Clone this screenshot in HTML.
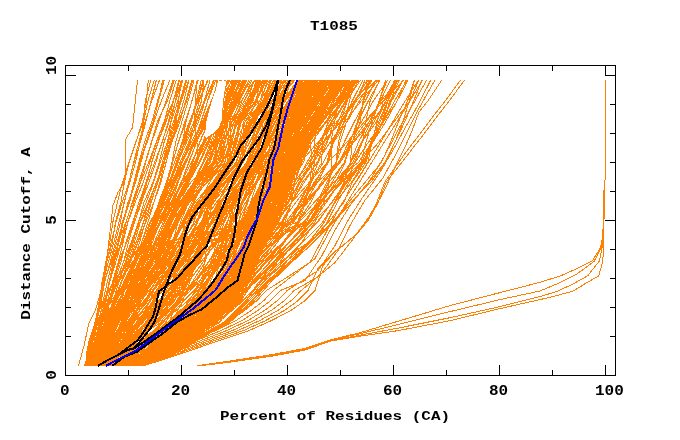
<!DOCTYPE html>
<html><head><meta charset="utf-8"><title>T1085</title>
<style>html,body{margin:0;padding:0;background:#fff;}svg{display:block;}</style>
</head><body><svg width="680" height="440" viewBox="0 0 680 440"><text transform="translate(310,30) scale(1,0.85)" font-family="&apos;Liberation Mono&apos;, monospace" font-weight="bold" font-size="16">T1085</text><text transform="translate(220,420) scale(1,0.85)" font-family="&apos;Liberation Mono&apos;, monospace" font-weight="bold" font-size="16">Percent of Residues (CA)</text><text transform="translate(29.8,233.5) rotate(-90) scale(1,0.85)" text-anchor="middle" font-family="&apos;Liberation Mono&apos;, monospace" font-weight="bold" font-size="16">Distance Cutoff, A</text><text transform="translate(55.5,65.4) rotate(-90) scale(1,0.9)" text-anchor="middle" font-family="&apos;Liberation Mono&apos;, monospace" font-weight="bold" font-size="16">10</text><text transform="translate(55.5,220) rotate(-90) scale(1,0.9)" text-anchor="middle" font-family="&apos;Liberation Mono&apos;, monospace" font-weight="bold" font-size="16">5</text><text transform="translate(55.5,375) rotate(-90) scale(1,0.9)" text-anchor="middle" font-family="&apos;Liberation Mono&apos;, monospace" font-weight="bold" font-size="16">0</text><text transform="translate(60,395) scale(1,0.9)" font-family="&apos;Liberation Mono&apos;, monospace" font-weight="bold" font-size="16">0</text><text transform="translate(171,395) scale(1,0.9)" font-family="&apos;Liberation Mono&apos;, monospace" font-weight="bold" font-size="16">20</text><text transform="translate(277,395) scale(1,0.9)" font-family="&apos;Liberation Mono&apos;, monospace" font-weight="bold" font-size="16">40</text><text transform="translate(383,395) scale(1,0.9)" font-family="&apos;Liberation Mono&apos;, monospace" font-weight="bold" font-size="16">60</text><text transform="translate(489,395) scale(1,0.9)" font-family="&apos;Liberation Mono&apos;, monospace" font-weight="bold" font-size="16">80</text><text transform="translate(595,395) scale(1,0.9)" font-family="&apos;Liberation Mono&apos;, monospace" font-weight="bold" font-size="16">100</text><path d="M87.3 365.8L89.6 355.8L90.5 340.7L96.0 322.7L100.2 302.6L103.6 282.6L106.6 262.5L112.4 242.5L115.4 222.4L120.9 202.3L124.4 182.3L129.1 162.2L136.0 142.2L142.3 122.1L146.4 101.1L148.3 80.0" stroke="#ff8000" stroke-width="1" fill="none" shape-rendering="crispEdges"/><path d="M85.5 365.8L86.8 355.8L90.1 340.7L95.4 322.7L100.3 302.6L102.0 282.6L105.7 262.5L109.8 242.5L112.8 222.4L117.5 202.3L122.5 182.3L129.1 162.2L135.7 142.2L143.3 122.1L145.3 101.1L150.8 80.0" stroke="#ff8000" stroke-width="1" fill="none" shape-rendering="crispEdges"/><path d="M85.5 365.8L86.6 355.8L90.5 340.7L94.7 322.7L101.0 302.6L104.6 282.6L110.1 262.5L115.4 242.5L120.4 222.4L124.0 202.3L129.8 182.3L135.6 162.2L140.0 142.2L143.5 122.1L147.9 101.1L154.2 80.0" stroke="#ff8000" stroke-width="1" fill="none" shape-rendering="crispEdges"/><path d="M87.6 365.8L90.3 355.8L93.0 340.7L96.5 322.7L100.1 302.6L102.4 282.6L106.7 262.5L111.2 242.5L116.0 222.4L122.3 202.3L128.8 182.3L134.1 162.2L140.4 142.2L145.7 122.1L151.1 101.1L156.4 80.0" stroke="#ff8000" stroke-width="1" fill="none" shape-rendering="crispEdges"/><path d="M87.8 365.8L88.8 355.8L90.7 340.7L95.3 322.7L99.0 302.6L102.9 282.6L108.2 262.5L113.8 242.5L118.8 222.4L124.5 202.3L128.9 182.3L133.7 162.2L138.9 142.2L145.0 122.1L151.7 101.1L159.6 80.0" stroke="#ff8000" stroke-width="1" fill="none" shape-rendering="crispEdges"/><path d="M89.5 365.8L93.9 355.8L96.8 340.7L100.6 322.7L105.8 302.6L109.0 282.6L114.5 262.5L118.8 242.5L123.1 222.4L128.0 202.3L135.6 182.3L141.0 162.2L146.4 142.2L153.4 122.1L158.4 101.1L162.6 80.0" stroke="#ff8000" stroke-width="1" fill="none" shape-rendering="crispEdges"/><path d="M89.2 365.8L92.9 355.8L95.5 340.7L99.8 322.7L105.1 302.6L109.2 282.6L113.2 262.5L118.1 242.5L123.2 222.4L129.5 202.3L135.1 182.3L139.4 162.2L146.3 142.2L153.1 122.1L158.5 101.1L164.4 80.0" stroke="#ff8000" stroke-width="1" fill="none" shape-rendering="crispEdges"/><path d="M92.0 365.8L94.3 355.8L96.5 340.7L101.4 322.7L105.9 302.6L109.4 282.6L113.2 262.5L118.7 242.5L122.1 222.4L129.1 202.3L134.0 182.3L139.0 162.2L144.5 142.2L151.8 122.1L157.5 101.1L164.0 80.0" stroke="#ff8000" stroke-width="1" fill="none" shape-rendering="crispEdges"/><path d="M89.6 365.8L91.2 355.8L94.3 340.7L97.1 322.7L100.0 302.6L103.6 282.6L111.1 262.5L116.8 242.5L123.3 222.4L128.7 202.3L134.8 182.3L140.2 162.2L147.1 142.2L153.9 122.1L161.2 101.1L170.0 80.0" stroke="#ff8000" stroke-width="1" fill="none" shape-rendering="crispEdges"/><path d="M93.8 365.8L97.7 355.8L97.8 340.7L101.7 322.7L104.1 302.6L109.1 282.6L114.1 262.5L120.9 242.5L126.1 222.4L132.3 202.3L138.8 182.3L145.3 162.2L151.4 142.2L157.3 122.1L167.2 101.1L174.2 80.0" stroke="#ff8000" stroke-width="1" fill="none" shape-rendering="crispEdges"/><path d="M91.7 365.8L92.8 355.8L96.1 340.7L100.0 322.7L104.6 302.6L109.5 282.6L115.6 262.5L121.7 242.5L127.7 222.4L134.0 202.3L140.5 182.3L145.8 162.2L151.7 142.2L158.6 122.1L166.0 101.1L173.1 80.0" stroke="#ff8000" stroke-width="1" fill="none" shape-rendering="crispEdges"/><path d="M89.5 365.8L91.4 355.8L96.0 340.7L100.9 322.7L107.1 302.6L112.3 282.6L118.2 262.5L123.0 242.5L127.9 222.4L135.2 202.3L143.3 182.3L149.8 162.2L156.7 142.2L164.3 122.1L169.7 101.1L176.3 80.0" stroke="#ff8000" stroke-width="1" fill="none" shape-rendering="crispEdges"/><path d="M92.3 365.8L93.3 355.8L96.6 340.7L100.8 322.7L108.9 302.6L114.0 282.6L120.8 262.5L126.0 242.5L132.7 222.4L139.0 202.3L146.1 182.3L152.0 162.2L158.1 142.2L166.0 122.1L172.9 101.1L179.8 80.0" stroke="#ff8000" stroke-width="1" fill="none" shape-rendering="crispEdges"/><path d="M94.2 365.8L98.2 355.8L101.8 340.7L105.4 322.7L109.4 302.6L113.4 282.6L119.3 262.5L126.5 242.5L133.2 222.4L140.2 202.3L146.6 182.3L151.8 162.2L157.9 142.2L165.4 122.1L173.0 101.1L182.0 80.0" stroke="#ff8000" stroke-width="1" fill="none" shape-rendering="crispEdges"/><path d="M93.9 365.8L94.1 355.8L95.5 340.7L98.8 322.7L102.8 302.6L107.1 282.6L112.1 262.5L118.3 242.5L125.8 222.4L132.7 202.3L140.5 182.3L148.7 162.2L156.2 142.2L163.9 122.1L173.2 101.1L183.2 80.0" stroke="#ff8000" stroke-width="1" fill="none" shape-rendering="crispEdges"/><path d="M86.7 365.8L89.6 355.8L94.4 340.7L102.8 322.7L108.0 302.6L115.6 282.6L123.3 262.5L128.3 242.5L134.3 222.4L141.7 202.3L147.0 182.3L154.7 162.2L162.3 142.2L168.2 122.1L173.6 101.1L178.7 80.0" stroke="#ff8000" stroke-width="1" fill="none" shape-rendering="crispEdges"/><path d="M86.2 365.8L91.4 355.8L98.8 340.7L107.6 322.7L115.1 302.6L121.5 282.6L128.9 262.5L136.0 242.5L143.3 222.4L150.7 202.3L158.0 182.3L164.0 162.2L168.1 142.2L170.8 122.1L175.5 101.1L179.1 80.0" stroke="#ff8000" stroke-width="1" fill="none" shape-rendering="crispEdges"/><path d="M86.1 365.8L92.5 355.8L95.7 340.7L101.1 322.7L108.9 302.6L113.5 282.6L118.2 262.5L126.6 242.5L134.5 222.4L141.3 202.3L149.0 182.3L155.9 162.2L161.9 142.2L169.0 122.1L175.6 101.1L182.4 80.0" stroke="#ff8000" stroke-width="1" fill="none" shape-rendering="crispEdges"/><path d="M86.1 365.8L90.2 355.8L96.0 340.7L104.8 322.7L112.8 302.6L118.6 282.6L126.0 262.5L133.1 242.5L138.5 222.4L143.9 202.3L153.0 182.3L159.2 162.2L164.1 142.2L171.1 122.1L177.8 101.1L182.6 80.0" stroke="#ff8000" stroke-width="1" fill="none" shape-rendering="crispEdges"/><path d="M86.0 365.8L91.6 355.8L98.1 340.7L105.6 322.7L115.7 302.6L123.4 282.6L133.5 262.5L141.6 242.5L147.9 222.4L153.9 202.3L161.0 182.3L166.1 162.2L171.7 142.2L176.2 122.1L178.4 101.1L181.2 80.0" stroke="#ff8000" stroke-width="1" fill="none" shape-rendering="crispEdges"/><path d="M86.3 365.8L92.4 355.8L96.5 340.7L102.8 322.7L109.4 302.6L116.4 282.6L123.2 262.5L131.2 242.5L138.4 222.4L146.2 202.3L153.7 182.3L160.3 162.2L167.2 142.2L173.2 122.1L180.0 101.1L185.8 80.0" stroke="#ff8000" stroke-width="1" fill="none" shape-rendering="crispEdges"/><path d="M98.1 365.8L103.1 355.8L107.8 340.7L114.2 322.7L121.0 302.6L126.9 282.6L133.3 262.5L139.6 242.5L145.1 222.4L151.3 202.3L157.2 182.3L162.4 162.2L168.4 142.2L174.5 122.1L180.9 101.1L186.7 80.0" stroke="#ff8000" stroke-width="1" fill="none" shape-rendering="crispEdges"/><path d="M90.0 365.8L93.4 355.8L99.5 340.7L105.5 322.7L113.8 302.6L121.4 282.6L130.4 262.5L137.9 242.5L145.8 222.4L153.9 202.3L160.0 182.3L164.3 162.2L169.8 142.2L175.4 122.1L181.2 101.1L188.7 80.0" stroke="#ff8000" stroke-width="1" fill="none" shape-rendering="crispEdges"/><path d="M85.5 365.8L88.2 355.8L94.7 340.7L101.6 322.7L109.6 302.6L117.6 282.6L125.1 262.5L132.0 242.5L139.7 222.4L148.4 202.3L156.4 182.3L163.8 162.2L170.4 142.2L177.4 122.1L183.7 101.1L189.0 80.0" stroke="#ff8000" stroke-width="1" fill="none" shape-rendering="crispEdges"/><path d="M89.4 365.8L94.4 355.8L100.2 340.7L106.8 322.7L113.3 302.6L121.2 282.6L127.5 262.5L134.4 242.5L140.3 222.4L149.4 202.3L156.4 182.3L164.0 162.2L171.9 142.2L179.7 122.1L185.7 101.1L191.9 80.0" stroke="#ff8000" stroke-width="1" fill="none" shape-rendering="crispEdges"/><path d="M87.5 365.8L92.2 355.8L98.3 340.7L104.4 322.7L113.1 302.6L120.8 282.6L129.6 262.5L137.6 242.5L143.4 222.4L148.1 202.3L157.0 182.3L164.4 162.2L171.3 142.2L178.2 122.1L186.6 101.1L192.8 80.0" stroke="#ff8000" stroke-width="1" fill="none" shape-rendering="crispEdges"/><path d="M88.9 365.8L93.8 355.8L101.3 340.7L109.2 322.7L117.5 302.6L127.7 282.6L136.5 262.5L144.6 242.5L152.4 222.4L158.8 202.3L166.5 182.3L172.1 162.2L175.6 142.2L181.8 122.1L188.1 101.1L194.1 80.0" stroke="#ff8000" stroke-width="1" fill="none" shape-rendering="crispEdges"/><path d="M89.9 365.8L95.6 355.8L103.4 340.7L113.0 322.7L122.8 302.6L131.0 282.6L139.2 262.5L146.1 242.5L152.3 222.4L159.5 202.3L166.4 182.3L172.6 162.2L178.5 142.2L185.9 122.1L191.9 101.1L197.6 80.0" stroke="#ff8000" stroke-width="1" fill="none" shape-rendering="crispEdges"/><path d="M92.2 365.8L97.7 355.8L105.6 340.7L114.7 322.7L123.5 302.6L132.5 282.6L141.4 262.5L149.4 242.5L156.2 222.4L163.4 202.3L170.2 182.3L176.6 162.2L182.7 142.2L190.4 122.1L196.3 101.1L201.3 80.0" stroke="#ff8000" stroke-width="1" fill="none" shape-rendering="crispEdges"/><path d="M89.6 365.8L95.7 355.8L101.9 340.7L110.1 322.7L118.2 302.6L127.4 282.6L135.4 262.5L145.6 242.5L152.8 222.4L160.2 202.3L167.8 182.3L172.7 162.2L178.4 142.2L184.8 122.1L192.1 101.1L197.3 80.0" stroke="#ff8000" stroke-width="1" fill="none" shape-rendering="crispEdges"/><path d="M90.9 365.8L94.7 355.8L101.3 340.7L110.9 322.7L118.9 302.6L128.0 282.6L136.5 262.5L144.4 242.5L154.3 222.4L162.3 202.3L169.8 182.3L176.4 162.2L183.0 142.2L185.6 122.1L191.8 101.1L198.3 80.0" stroke="#ff8000" stroke-width="1" fill="none" shape-rendering="crispEdges"/><path d="M89.0 365.8L95.5 355.8L105.2 340.7L114.3 322.7L123.4 302.6L131.5 282.6L140.2 262.5L149.3 242.5L157.5 222.4L163.5 202.3L170.5 182.3L178.3 162.2L184.1 142.2L189.9 122.1L197.2 101.1L203.1 80.0" stroke="#ff8000" stroke-width="1" fill="none" shape-rendering="crispEdges"/><path d="M91.5 365.8L98.0 355.8L106.7 340.7L116.0 322.7L126.5 302.6L135.8 282.6L143.9 262.5L151.1 242.5L159.7 222.4L166.7 202.3L175.4 182.3L182.4 162.2L189.3 142.2L194.5 122.1L201.5 101.1L204.0 80.0" stroke="#ff8000" stroke-width="1" fill="none" shape-rendering="crispEdges"/><path d="M96.9 365.8L101.9 355.8L108.9 340.7L117.5 322.7L125.1 302.6L132.7 282.6L138.8 262.5L146.0 242.5L153.9 222.4L160.8 202.3L169.0 182.3L177.4 162.2L184.7 142.2L190.9 122.1L197.4 101.1L204.1 80.0" stroke="#ff8000" stroke-width="1" fill="none" shape-rendering="crispEdges"/><path d="M86.3 365.8L90.2 355.8L96.3 340.7L104.8 322.7L115.3 302.6L123.9 282.6L135.1 262.5L144.3 242.5L152.2 222.4L161.1 202.3L169.0 182.3L176.4 162.2L185.3 142.2L193.7 122.1L199.2 101.1L208.1 80.0" stroke="#ff8000" stroke-width="1" fill="none" shape-rendering="crispEdges"/><path d="M88.3 365.8L90.9 355.8L98.7 340.7L109.0 322.7L118.1 302.6L126.8 282.6L134.6 262.5L143.6 242.5L150.7 222.4L159.5 202.3L166.6 182.3L174.7 162.2L182.0 142.2L189.2 122.1L198.2 101.1L207.7 80.0" stroke="#ff8000" stroke-width="1" fill="none" shape-rendering="crispEdges"/><path d="M94.1 365.8L101.8 355.8L108.5 340.7L116.2 322.7L124.8 302.6L134.4 282.6L142.8 262.5L150.4 242.5L159.3 222.4L167.0 202.3L174.4 182.3L181.4 162.2L190.1 142.2L196.7 122.1L204.3 101.1L210.1 80.0" stroke="#ff8000" stroke-width="1" fill="none" shape-rendering="crispEdges"/><path d="M98.7 365.8L102.9 355.8L107.3 340.7L115.4 322.7L123.9 302.6L133.5 282.6L140.0 262.5L147.7 242.5L154.2 222.4L161.4 202.3L168.8 182.3L177.7 162.2L186.6 142.2L195.6 122.1L204.2 101.1L213.7 80.0" stroke="#ff8000" stroke-width="1" fill="none" shape-rendering="crispEdges"/><path d="M96.0 365.8L100.6 355.8L107.8 340.7L116.2 322.7L125.8 302.6L135.8 282.6L145.1 262.5L154.3 242.5L163.0 222.4L171.7 202.3L178.3 182.3L185.8 162.2L193.7 142.2L200.7 122.1L207.5 101.1L214.4 80.0" stroke="#ff8000" stroke-width="1" fill="none" shape-rendering="crispEdges"/><path d="M95.9 365.8L101.1 355.8L107.0 340.7L116.0 322.7L124.5 302.6L133.0 282.6L141.6 262.5L149.5 242.5L154.6 222.4L164.2 202.3L172.3 182.3L180.1 162.2L188.7 142.2L198.3 122.1L205.1 101.1L213.7 80.0" stroke="#ff8000" stroke-width="1" fill="none" shape-rendering="crispEdges"/><path d="M92.0 365.8L98.4 355.8L106.2 340.7L113.7 322.7L124.5 302.6L133.6 282.6L141.3 262.5L149.2 242.5L160.2 222.4L169.1 202.3L177.9 182.3L186.2 162.2L194.6 142.2L201.1 122.1L207.7 101.1L215.8 80.0" stroke="#ff8000" stroke-width="1" fill="none" shape-rendering="crispEdges"/><path d="M98.5 365.8L104.3 355.8L111.4 340.7L122.0 322.7L130.5 302.6L139.9 282.6L149.8 262.5L157.8 242.5L164.1 222.4L173.7 202.3L181.7 182.3L188.5 162.2L196.7 142.2L203.8 122.1L212.3 101.1L217.8 80.0" stroke="#ff8000" stroke-width="1" fill="none" shape-rendering="crispEdges"/><path d="M99.7 365.8L102.7 355.8L110.2 340.7L119.3 322.7L129.3 302.6L137.4 282.6L146.7 262.5L155.7 242.5L164.7 222.4L172.9 202.3L181.2 182.3L189.2 162.2L196.7 142.2L205.5 122.1L213.3 101.1L220.5 80.0" stroke="#ff8000" stroke-width="1" fill="none" shape-rendering="crispEdges"/><path d="M98.4 365.8L103.8 355.8L107.8 340.7L114.6 322.7L122.1 302.6L129.9 282.6L138.3 262.5L146.9 242.5L155.9 222.4L164.1 202.3L173.1 182.3L181.5 162.2L191.3 142.2L202.2 122.1L211.1 101.1L221.1 80.0" stroke="#ff8000" stroke-width="1" fill="none" shape-rendering="crispEdges"/><path d="M97.2 365.8L101.5 355.8L112.5 340.7L121.3 322.7L132.8 302.6L141.7 282.6L152.9 262.5L160.8 242.5L169.5 222.4L176.3 202.3L185.6 182.3L192.9 162.2L199.8 142.2L208.8 122.1L215.8 101.1L219.9 80.0" stroke="#ff8000" stroke-width="1" fill="none" shape-rendering="crispEdges"/><path d="M99.0 365.8L104.7 355.8L110.9 340.7L118.1 322.7L125.0 302.6L134.1 282.6L143.0 262.5L150.1 242.5L157.4 222.4L167.9 202.3L177.1 182.3L185.7 162.2L193.6 142.2L202.9 122.1L211.4 101.1L221.3 80.0" stroke="#ff8000" stroke-width="1" fill="none" shape-rendering="crispEdges"/><path d="M100.5 365.8L106.4 355.8L113.5 340.7L121.4 322.7L130.5 302.6L140.1 282.6L150.0 262.5L159.1 242.5L167.6 222.4L176.3 202.3L185.5 182.3L192.2 162.2L199.6 142.2L208.2 122.1L215.0 101.1L221.3 80.0" stroke="#ff8000" stroke-width="1" fill="none" shape-rendering="crispEdges"/><path d="M100.4 365.8L107.3 355.8L115.2 340.7L123.6 322.7L133.4 302.6L142.8 282.6L152.5 262.5L161.3 242.5L170.6 222.4L178.8 202.3L186.7 182.3L195.1 162.2L202.9 142.2L210.0 122.1L220.2 101.1L228.6 80.0" stroke="#ff8000" stroke-width="1" fill="none" shape-rendering="crispEdges"/><path d="M98.2 365.8L101.9 355.8L108.8 340.7L116.3 322.7L125.8 302.6L135.5 282.6L144.0 262.5L152.3 242.5L160.0 222.4L168.3 202.3L177.3 182.3L186.3 162.2L195.0 142.2L205.0 122.1L215.4 101.1L225.9 80.0" stroke="#ff8000" stroke-width="1" fill="none" shape-rendering="crispEdges"/><path d="M92.6 365.8L100.1 355.8L108.0 340.7L118.7 322.7L129.9 302.6L141.9 282.6L150.7 262.5L160.9 242.5L168.3 222.4L177.0 202.3L187.2 182.3L196.5 162.2L204.1 142.2L213.4 122.1L220.8 101.1L225.0 80.0" stroke="#ff8000" stroke-width="1" fill="none" shape-rendering="crispEdges"/><path d="M88.0 365.8L93.1 355.8L99.2 340.7L107.4 322.7L115.9 302.6L125.3 282.6L133.7 262.5L144.6 242.5L155.3 222.4L165.6 202.3L175.5 182.3L185.6 162.2L193.5 142.2L202.4 122.1L213.0 101.1L224.7 80.0" stroke="#ff8000" stroke-width="1" fill="none" shape-rendering="crispEdges"/><path d="M95.8 365.8L99.3 355.8L105.0 340.7L112.4 322.7L118.9 302.6L125.9 282.6L132.9 262.5L141.5 242.5L149.9 222.4L160.9 202.3L171.1 182.3L182.0 162.2L193.1 142.2L203.7 122.1L214.9 101.1L226.1 80.0" stroke="#ff8000" stroke-width="1" fill="none" shape-rendering="crispEdges"/><path d="M91.9 365.8L100.4 355.8L105.8 340.7L116.3 322.7L129.9 302.6L139.6 282.6L148.3 262.5L159.8 242.5L170.5 222.4L178.0 202.3L188.6 182.3L197.2 162.2L204.7 142.2L212.1 122.1L220.3 101.1L225.7 80.0" stroke="#ff8000" stroke-width="1" fill="none" shape-rendering="crispEdges"/><path d="M91.9 365.8L94.9 355.8L100.3 340.7L106.7 322.7L116.0 302.6L124.4 282.6L132.8 262.5L142.9 242.5L152.7 222.4L162.4 202.3L173.3 182.3L184.6 162.2L195.5 142.2L206.8 122.1L218.5 101.1L229.9 80.0" stroke="#ff8000" stroke-width="1" fill="none" shape-rendering="crispEdges"/><path d="M96.4 365.8L103.4 355.8L110.1 340.7L119.3 322.7L129.9 302.6L142.5 282.6L151.8 262.5L160.6 242.5L171.5 222.4L180.8 202.3L188.8 182.3L199.7 162.2L209.2 142.2L216.5 122.1L225.1 101.1L233.2 80.0" stroke="#ff8000" stroke-width="1" fill="none" shape-rendering="crispEdges"/><path d="M88.0 365.8L91.4 355.8L96.3 340.7L105.1 322.7L115.6 302.6L126.5 282.6L135.9 262.5L146.2 242.5L154.9 222.4L166.2 202.3L174.0 182.3L185.3 162.2L195.7 142.2L208.1 122.1L218.4 101.1L232.7 80.0" stroke="#ff8000" stroke-width="1" fill="none" shape-rendering="crispEdges"/><path d="M89.2 365.8L97.0 355.8L103.8 340.7L114.6 322.7L126.8 302.6L137.1 282.6L146.7 262.5L156.2 242.5L167.3 222.4L176.8 202.3L186.5 182.3L195.1 162.2L207.4 142.2L215.5 122.1L226.4 101.1L238.0 80.0" stroke="#ff8000" stroke-width="1" fill="none" shape-rendering="crispEdges"/><path d="M102.5 365.8L110.0 355.8L118.8 340.7L128.7 322.7L138.1 302.6L147.7 282.6L156.9 262.5L166.3 242.5L175.6 222.4L185.5 202.3L193.4 182.3L202.9 162.2L210.7 142.2L219.2 122.1L228.4 101.1L236.4 80.0" stroke="#ff8000" stroke-width="1" fill="none" shape-rendering="crispEdges"/><path d="M98.5 365.8L104.1 355.8L114.6 340.7L124.6 322.7L135.0 302.6L146.1 282.6L156.8 262.5L166.7 242.5L176.7 222.4L185.7 202.3L195.4 182.3L206.0 162.2L214.1 142.2L222.4 122.1L231.4 101.1L239.8 80.0" stroke="#ff8000" stroke-width="1" fill="none" shape-rendering="crispEdges"/><path d="M91.5 365.8L96.4 355.8L104.9 340.7L115.5 322.7L128.5 302.6L141.3 282.6L152.5 262.5L163.5 242.5L175.1 222.4L185.4 202.3L194.6 182.3L203.4 162.2L212.4 142.2L220.5 122.1L228.7 101.1L238.4 80.0" stroke="#ff8000" stroke-width="1" fill="none" shape-rendering="crispEdges"/><path d="M106.1 365.8L109.2 355.8L115.9 340.7L123.1 322.7L131.2 302.6L137.8 282.6L148.7 262.5L156.4 242.5L164.8 222.4L174.6 202.3L185.2 182.3L194.4 162.2L205.5 142.2L215.8 122.1L230.0 101.1L243.6 80.0" stroke="#ff8000" stroke-width="1" fill="none" shape-rendering="crispEdges"/><path d="M97.2 365.8L99.7 355.8L104.6 340.7L112.0 322.7L121.6 302.6L130.5 282.6L140.1 262.5L150.1 242.5L160.3 222.4L171.5 202.3L181.3 182.3L191.3 162.2L202.9 142.2L214.9 122.1L227.6 101.1L243.0 80.0" stroke="#ff8000" stroke-width="1" fill="none" shape-rendering="crispEdges"/><path d="M103.2 365.8L107.5 355.8L114.7 340.7L124.2 322.7L134.5 302.6L145.4 282.6L156.0 262.5L166.1 242.5L176.2 222.4L185.8 202.3L194.4 182.3L203.8 162.2L213.4 142.2L223.3 122.1L233.0 101.1L245.2 80.0" stroke="#ff8000" stroke-width="1" fill="none" shape-rendering="crispEdges"/><path d="M109.2 365.8L115.4 355.8L122.9 340.7L130.3 322.7L139.3 302.6L149.4 282.6L157.3 262.5L166.5 242.5L177.7 222.4L188.0 202.3L197.1 182.3L207.6 162.2L217.2 142.2L225.5 122.1L234.7 101.1L244.5 80.0" stroke="#ff8000" stroke-width="1" fill="none" shape-rendering="crispEdges"/><path d="M111.7 365.8L113.5 355.8L118.4 340.7L125.7 322.7L133.7 302.6L141.4 282.6L150.0 262.5L158.4 242.5L167.7 222.4L175.9 202.3L186.1 182.3L196.0 162.2L207.2 142.2L219.3 122.1L233.0 101.1L247.1 80.0" stroke="#ff8000" stroke-width="1" fill="none" shape-rendering="crispEdges"/><path d="M108.2 365.8L110.9 355.8L119.6 340.7L130.1 322.7L140.8 302.6L151.3 282.6L162.1 262.5L171.8 242.5L183.0 222.4L193.9 202.3L204.1 182.3L213.2 162.2L223.0 142.2L231.8 122.1L239.5 101.1L249.1 80.0" stroke="#ff8000" stroke-width="1" fill="none" shape-rendering="crispEdges"/><path d="M109.5 365.8L113.6 355.8L122.2 340.7L132.4 322.7L144.3 302.6L154.7 282.6L164.6 262.5L173.5 242.5L183.7 222.4L193.2 202.3L202.9 182.3L212.2 162.2L222.9 142.2L233.9 122.1L242.1 101.1L252.1 80.0" stroke="#ff8000" stroke-width="1" fill="none" shape-rendering="crispEdges"/><path d="M113.7 365.8L124.2 355.8L131.3 340.7L146.3 322.7L153.0 302.6L160.6 282.6L165.3 262.5L169.1 242.5L170.0 222.4L172.6 202.3L180.9 182.3L197.7 162.2L197.0 142.2L194.0 122.1L195.3 101.1L197.3 80.0" stroke="#ff8000" stroke-width="1" fill="none" shape-rendering="crispEdges"/><path d="M84.9 365.8L87.3 355.8L91.0 340.7L95.3 322.7L109.1 302.6L126.0 282.6L145.3 262.5L155.8 242.5L168.2 222.4L180.0 202.3L196.4 182.3L216.2 162.2L224.7 142.2L232.1 122.1L246.1 101.1L259.8 80.0" stroke="#ff8000" stroke-width="1" fill="none" shape-rendering="crispEdges"/><path d="M94.1 365.8L102.2 355.8L107.5 340.7L114.1 322.7L124.5 302.6L137.2 282.6L149.1 262.5L159.1 242.5L166.1 222.4L176.8 202.3L190.6 182.3L210.4 162.2L215.5 142.2L218.5 122.1L227.1 101.1L235.4 80.0" stroke="#ff8000" stroke-width="1" fill="none" shape-rendering="crispEdges"/><path d="M92.6 365.8L97.1 355.8L103.8 340.7L112.3 322.7L123.8 302.6L136.4 282.6L150.1 262.5L163.1 242.5L170.4 222.4L181.7 202.3L196.3 182.3L214.1 162.2L220.6 142.2L224.7 122.1L233.2 101.1L239.2 80.0" stroke="#ff8000" stroke-width="1" fill="none" shape-rendering="crispEdges"/><path d="M96.0 365.8L101.9 355.8L108.7 340.7L114.5 322.7L124.5 302.6L137.2 282.6L152.0 262.5L160.8 242.5L169.7 222.4L177.7 202.3L191.0 182.3L209.3 162.2L216.7 142.2L217.8 122.1L228.8 101.1L238.1 80.0" stroke="#ff8000" stroke-width="1" fill="none" shape-rendering="crispEdges"/><path d="M88.7 365.8L92.3 355.8L101.5 340.7L111.1 322.7L121.1 302.6L135.1 282.6L147.8 262.5L162.8 242.5L171.4 222.4L179.6 202.3L193.9 182.3L214.1 162.2L216.4 142.2L223.2 122.1L234.5 101.1L246.3 80.0" stroke="#ff8000" stroke-width="1" fill="none" shape-rendering="crispEdges"/><path d="M89.4 365.8L95.6 355.8L100.0 340.7L107.8 322.7L120.3 302.6L136.3 282.6L150.8 262.5L164.4 242.5L173.9 222.4L183.9 202.3L200.0 182.3L219.4 162.2L227.8 142.2L234.2 122.1L247.5 101.1L254.4 80.0" stroke="#ff8000" stroke-width="1" fill="none" shape-rendering="crispEdges"/><path d="M94.4 365.8L95.7 355.8L105.8 340.7L113.8 322.7L123.2 302.6L137.1 282.6L152.0 262.5L162.6 242.5L168.1 222.4L180.1 202.3L193.9 182.3L210.5 162.2L214.6 142.2L218.2 122.1L226.1 101.1L234.1 80.0" stroke="#ff8000" stroke-width="1" fill="none" shape-rendering="crispEdges"/><path d="M91.8 365.8L98.3 355.8L103.6 340.7L111.1 322.7L121.5 302.6L135.3 282.6L154.3 262.5L167.1 242.5L178.4 222.4L187.3 202.3L201.7 182.3L214.6 162.2L220.3 142.2L226.1 122.1L239.0 101.1L250.6 80.0" stroke="#ff8000" stroke-width="1" fill="none" shape-rendering="crispEdges"/><path d="M84.7 365.8L87.9 355.8L91.0 340.7L97.9 322.7L110.4 302.6L130.8 282.6L149.5 262.5L162.4 242.5L175.0 222.4L189.6 202.3L207.2 182.3L222.9 162.2L230.3 142.2L237.4 122.1L248.7 101.1L264.8 80.0" stroke="#ff8000" stroke-width="1" fill="none" shape-rendering="crispEdges"/><path d="M94.7 365.8L101.7 355.8L109.4 340.7L117.3 322.7L128.3 302.6L141.8 282.6L156.2 262.5L164.8 242.5L171.7 222.4L181.4 202.3L195.6 182.3L212.6 162.2L218.5 142.2L223.4 122.1L234.5 101.1L246.6 80.0" stroke="#ff8000" stroke-width="1" fill="none" shape-rendering="crispEdges"/><path d="M96.8 365.8L103.1 355.8L111.0 340.7L122.1 322.7L135.0 302.6L149.1 282.6L162.7 262.5L172.9 242.5L177.8 222.4L187.4 202.3L202.0 182.3L219.2 162.2L222.3 142.2L227.4 122.1L236.0 101.1L243.3 80.0" stroke="#ff8000" stroke-width="1" fill="none" shape-rendering="crispEdges"/><path d="M91.1 365.8L97.2 355.8L103.6 340.7L112.3 322.7L123.6 302.6L139.6 282.6L152.2 262.5L164.6 242.5L175.6 222.4L183.9 202.3L196.9 182.3L219.1 162.2L225.2 142.2L227.7 122.1L237.3 101.1L249.1 80.0" stroke="#ff8000" stroke-width="1" fill="none" shape-rendering="crispEdges"/><path d="M98.9 365.8L105.3 355.8L116.0 340.7L121.2 322.7L131.3 302.6L140.9 282.6L154.2 262.5L164.3 242.5L174.7 222.4L183.8 202.3L197.9 182.3L214.2 162.2L217.4 142.2L218.6 122.1L229.1 101.1L237.2 80.0" stroke="#ff8000" stroke-width="1" fill="none" shape-rendering="crispEdges"/><path d="M101.9 365.8L106.1 355.8L115.1 340.7L123.3 322.7L133.5 302.6L144.1 282.6L156.9 262.5L168.5 242.5L177.1 222.4L183.3 202.3L196.6 182.3L214.9 162.2L217.6 142.2L216.9 122.1L224.4 101.1L231.2 80.0" stroke="#ff8000" stroke-width="1" fill="none" shape-rendering="crispEdges"/><path d="M84.6 365.8L87.7 355.8L90.5 340.7L96.3 322.7L111.0 302.6L130.7 282.6L152.3 262.5L166.2 242.5L177.8 222.4L189.0 202.3L204.6 182.3L221.7 162.2L233.4 142.2L241.3 122.1L259.3 101.1L274.5 80.0" stroke="#ff8000" stroke-width="1" fill="none" shape-rendering="crispEdges"/><path d="M84.7 365.8L90.9 355.8L95.7 340.7L102.4 322.7L113.2 302.6L131.6 282.6L148.3 262.5L164.5 242.5L176.4 222.4L189.0 202.3L207.1 182.3L227.1 162.2L235.7 142.2L245.1 122.1L262.7 101.1L273.9 80.0" stroke="#ff8000" stroke-width="1" fill="none" shape-rendering="crispEdges"/><path d="M98.0 365.8L106.6 355.8L113.8 340.7L120.6 322.7L132.2 302.6L145.6 282.6L159.9 262.5L168.2 242.5L176.2 222.4L186.7 202.3L199.2 182.3L215.2 162.2L221.6 142.2L227.7 122.1L238.3 101.1L249.0 80.0" stroke="#ff8000" stroke-width="1" fill="none" shape-rendering="crispEdges"/><path d="M87.8 365.8L92.8 355.8L97.0 340.7L104.6 322.7L121.6 302.6L137.8 282.6L152.2 262.5L167.5 242.5L176.6 222.4L185.9 202.3L202.3 182.3L219.8 162.2L228.4 142.2L238.5 122.1L255.2 101.1L265.8 80.0" stroke="#ff8000" stroke-width="1" fill="none" shape-rendering="crispEdges"/><path d="M93.3 365.8L98.8 355.8L107.9 340.7L117.4 322.7L129.6 302.6L143.7 282.6L160.4 262.5L172.7 242.5L182.9 222.4L191.6 202.3L206.5 182.3L221.6 162.2L225.1 142.2L231.4 122.1L244.2 101.1L254.9 80.0" stroke="#ff8000" stroke-width="1" fill="none" shape-rendering="crispEdges"/><path d="M108.9 365.8L117.4 355.8L128.9 340.7L138.3 322.7L149.3 302.6L157.0 282.6L170.0 262.5L173.9 242.5L180.4 222.4L188.5 202.3L204.5 182.3L217.7 162.2L221.7 142.2L222.7 122.1L229.1 101.1L235.2 80.0" stroke="#ff8000" stroke-width="1" fill="none" shape-rendering="crispEdges"/><path d="M91.6 365.8L98.6 355.8L107.2 340.7L114.5 322.7L130.1 302.6L145.6 282.6L161.0 262.5L173.8 242.5L184.2 222.4L195.1 202.3L212.7 182.3L228.2 162.2L235.4 142.2L241.3 122.1L250.9 101.1L262.4 80.0" stroke="#ff8000" stroke-width="1" fill="none" shape-rendering="crispEdges"/><path d="M84.7 365.8L90.5 355.8L98.8 340.7L108.9 322.7L122.7 302.6L139.2 282.6L159.3 262.5L171.4 242.5L182.6 222.4L194.8 202.3L213.6 182.3L229.6 162.2L240.0 142.2L252.6 122.1L268.9 101.1L278.2 80.0" stroke="#ff8000" stroke-width="1" fill="none" shape-rendering="crispEdges"/><path d="M85.1 365.8L92.0 355.8L97.3 340.7L105.3 322.7L118.8 302.6L137.0 282.6L154.5 262.5L170.1 242.5L186.1 222.4L201.0 202.3L219.1 182.3L239.2 162.2L249.7 142.2L259.2 122.1L276.1 101.1L289.1 80.0" stroke="#ff8000" stroke-width="1" fill="none" shape-rendering="crispEdges"/><path d="M85.1 365.8L87.9 355.8L95.1 340.7L102.1 322.7L118.7 302.6L141.0 282.6L158.4 262.5L171.1 242.5L186.2 222.4L200.2 202.3L214.8 182.3L230.4 162.2L242.2 142.2L251.2 122.1L264.9 101.1L284.5 80.0" stroke="#ff8000" stroke-width="1" fill="none" shape-rendering="crispEdges"/><path d="M94.8 365.8L100.3 355.8L109.4 340.7L122.7 322.7L134.8 302.6L149.2 282.6L161.8 262.5L174.2 242.5L181.9 222.4L191.7 202.3L203.8 182.3L224.6 162.2L229.9 142.2L237.6 122.1L251.6 101.1L263.5 80.0" stroke="#ff8000" stroke-width="1" fill="none" shape-rendering="crispEdges"/><path d="M117.7 365.8L127.1 355.8L141.1 340.7L153.2 322.7L165.2 302.6L171.8 282.6L179.0 262.5L179.7 242.5L185.5 222.4L184.3 202.3L196.0 182.3L209.3 162.2L211.5 142.2L207.0 122.1L215.2 101.1L216.4 80.0" stroke="#ff8000" stroke-width="1" fill="none" shape-rendering="crispEdges"/><path d="M105.1 365.8L112.6 355.8L118.4 340.7L129.0 322.7L139.9 302.6L155.2 282.6L166.0 262.5L177.0 242.5L188.2 222.4L193.2 202.3L203.9 182.3L219.5 162.2L223.8 142.2L226.3 122.1L235.9 101.1L245.5 80.0" stroke="#ff8000" stroke-width="1" fill="none" shape-rendering="crispEdges"/><path d="M94.0 365.8L99.3 355.8L103.7 340.7L117.5 322.7L134.6 302.6L148.6 282.6L167.0 262.5L180.4 242.5L190.9 222.4L199.3 202.3L214.6 182.3L233.7 162.2L240.2 142.2L246.9 122.1L263.6 101.1L274.2 80.0" stroke="#ff8000" stroke-width="1" fill="none" shape-rendering="crispEdges"/><path d="M100.9 365.8L108.8 355.8L119.7 340.7L127.6 322.7L140.7 302.6L151.2 282.6L167.4 262.5L178.0 242.5L187.6 222.4L198.3 202.3L209.7 182.3L222.2 162.2L227.4 142.2L230.1 122.1L241.2 101.1L254.6 80.0" stroke="#ff8000" stroke-width="1" fill="none" shape-rendering="crispEdges"/><path d="M98.5 365.8L107.4 355.8L116.2 340.7L128.1 322.7L143.6 302.6L158.0 282.6L173.5 262.5L183.1 242.5L190.2 222.4L199.3 202.3L214.6 182.3L231.1 162.2L241.4 142.2L244.9 122.1L257.3 101.1L262.9 80.0" stroke="#ff8000" stroke-width="1" fill="none" shape-rendering="crispEdges"/><path d="M99.1 365.8L108.0 355.8L116.3 340.7L124.7 322.7L138.9 302.6L151.2 282.6L165.1 262.5L177.3 242.5L187.8 222.4L197.2 202.3L213.2 182.3L224.9 162.2L230.0 142.2L236.7 122.1L248.8 101.1L257.7 80.0" stroke="#ff8000" stroke-width="1" fill="none" shape-rendering="crispEdges"/><path d="M90.8 365.8L92.4 355.8L102.2 340.7L113.6 322.7L128.7 302.6L143.9 282.6L159.7 262.5L173.9 242.5L184.6 222.4L197.0 202.3L214.2 182.3L232.0 162.2L238.6 142.2L249.9 122.1L266.5 101.1L279.4 80.0" stroke="#ff8000" stroke-width="1" fill="none" shape-rendering="crispEdges"/><path d="M103.9 365.8L113.0 355.8L121.9 340.7L131.1 322.7L144.4 302.6L159.4 282.6L171.9 262.5L183.1 242.5L193.7 222.4L200.4 202.3L213.7 182.3L230.2 162.2L234.6 142.2L239.2 122.1L251.2 101.1L259.6 80.0" stroke="#ff8000" stroke-width="1" fill="none" shape-rendering="crispEdges"/><path d="M92.6 365.8L95.7 355.8L106.2 340.7L117.7 322.7L132.4 302.6L149.9 282.6L169.1 262.5L179.9 242.5L190.9 222.4L202.3 202.3L215.2 182.3L231.7 162.2L243.0 142.2L251.0 122.1L265.1 101.1L280.4 80.0" stroke="#ff8000" stroke-width="1" fill="none" shape-rendering="crispEdges"/><path d="M95.8 365.8L105.2 355.8L113.7 340.7L123.4 322.7L136.8 302.6L153.0 282.6L168.5 262.5L179.5 242.5L190.0 222.4L201.0 202.3L215.9 182.3L230.8 162.2L239.4 142.2L249.3 122.1L264.9 101.1L275.5 80.0" stroke="#ff8000" stroke-width="1" fill="none" shape-rendering="crispEdges"/><path d="M107.4 365.8L116.6 355.8L125.7 340.7L138.1 322.7L151.4 302.6L166.3 282.6L177.5 262.5L190.6 242.5L197.2 222.4L202.1 202.3L214.7 182.3L227.1 162.2L230.7 142.2L235.6 122.1L248.7 101.1L257.2 80.0" stroke="#ff8000" stroke-width="1" fill="none" shape-rendering="crispEdges"/><path d="M95.6 365.8L102.0 355.8L111.6 340.7L122.7 322.7L138.2 302.6L152.3 282.6L169.0 262.5L179.5 242.5L188.8 222.4L199.3 202.3L215.6 182.3L232.4 162.2L243.5 142.2L252.7 122.1L266.3 101.1L278.2 80.0" stroke="#ff8000" stroke-width="1" fill="none" shape-rendering="crispEdges"/><path d="M90.2 365.8L96.1 355.8L106.1 340.7L117.6 322.7L131.7 302.6L149.2 282.6L166.8 262.5L181.2 242.5L195.4 222.4L206.8 202.3L220.4 182.3L236.0 162.2L244.1 142.2L252.9 122.1L271.2 101.1L288.5 80.0" stroke="#ff8000" stroke-width="1" fill="none" shape-rendering="crispEdges"/><path d="M85.8 365.8L92.0 355.8L100.6 340.7L110.4 322.7L128.0 302.6L148.3 282.6L164.1 262.5L180.6 242.5L195.6 222.4L209.1 202.3L224.6 182.3L242.2 162.2L252.1 142.2L263.2 122.1L277.1 101.1L294.4 80.0" stroke="#ff8000" stroke-width="1" fill="none" shape-rendering="crispEdges"/><path d="M103.5 365.8L114.8 355.8L123.0 340.7L138.7 322.7L148.6 302.6L162.8 282.6L177.5 262.5L187.0 242.5L197.1 222.4L203.6 202.3L216.8 182.3L228.9 162.2L236.2 142.2L240.7 122.1L255.8 101.1L260.8 80.0" stroke="#ff8000" stroke-width="1" fill="none" shape-rendering="crispEdges"/><path d="M88.0 365.8L93.0 355.8L101.5 340.7L111.1 322.7L126.3 302.6L142.6 282.6L162.7 262.5L177.3 242.5L191.1 222.4L206.4 202.3L223.8 182.3L240.8 162.2L254.6 142.2L267.2 122.1L282.7 101.1L297.7 80.0" stroke="#ff8000" stroke-width="1" fill="none" shape-rendering="crispEdges"/><path d="M100.2 365.8L109.6 355.8L120.1 340.7L130.2 322.7L145.8 302.6L159.1 282.6L174.3 262.5L187.3 242.5L197.6 222.4L205.3 202.3L219.1 182.3L233.7 162.2L240.6 142.2L249.5 122.1L266.2 101.1L280.7 80.0" stroke="#ff8000" stroke-width="1" fill="none" shape-rendering="crispEdges"/><path d="M105.3 365.8L115.6 355.8L126.5 340.7L136.1 322.7L151.7 302.6L163.1 282.6L174.8 262.5L185.0 242.5L197.3 222.4L203.7 202.3L215.8 182.3L229.0 162.2L234.2 142.2L239.7 122.1L250.4 101.1L258.0 80.0" stroke="#ff8000" stroke-width="1" fill="none" shape-rendering="crispEdges"/><path d="M100.0 365.8L104.6 355.8L115.1 340.7L126.4 322.7L143.3 302.6L160.0 282.6L175.4 262.5L185.8 242.5L197.4 222.4L208.0 202.3L222.0 182.3L238.0 162.2L246.6 142.2L254.0 122.1L265.9 101.1L277.4 80.0" stroke="#ff8000" stroke-width="1" fill="none" shape-rendering="crispEdges"/><path d="M102.1 365.8L113.0 355.8L125.6 340.7L137.6 322.7L153.1 302.6L164.4 282.6L176.5 262.5L188.6 242.5L196.7 222.4L205.8 202.3L219.7 182.3L236.6 162.2L242.8 142.2L249.0 122.1L263.3 101.1L273.5 80.0" stroke="#ff8000" stroke-width="1" fill="none" shape-rendering="crispEdges"/><path d="M110.8 365.8L119.8 355.8L131.6 340.7L145.2 322.7L158.0 302.6L171.1 282.6L183.2 262.5L192.4 242.5L200.8 222.4L211.3 202.3L217.3 182.3L228.3 162.2L232.1 142.2L236.7 122.1L249.8 101.1L258.8 80.0" stroke="#ff8000" stroke-width="1" fill="none" shape-rendering="crispEdges"/><path d="M93.2 365.8L99.9 355.8L110.0 340.7L116.6 322.7L133.6 302.6L152.5 282.6L169.0 262.5L183.5 242.5L201.1 222.4L213.6 202.3L225.5 182.3L243.2 162.2L253.8 142.2L260.7 122.1L276.5 101.1L295.1 80.0" stroke="#ff8000" stroke-width="1" fill="none" shape-rendering="crispEdges"/><path d="M108.1 365.8L115.3 355.8L126.6 340.7L141.0 322.7L152.8 302.6L166.0 282.6L182.0 262.5L194.1 242.5L201.3 222.4L209.6 202.3L221.5 182.3L236.8 162.2L240.7 142.2L247.5 122.1L256.2 101.1L266.7 80.0" stroke="#ff8000" stroke-width="1" fill="none" shape-rendering="crispEdges"/><path d="M102.9 365.8L111.8 355.8L121.5 340.7L136.5 322.7L153.5 302.6L163.4 282.6L177.6 262.5L189.9 242.5L202.4 222.4L206.4 202.3L221.2 182.3L235.9 162.2L243.7 142.2L246.9 122.1L263.8 101.1L274.0 80.0" stroke="#ff8000" stroke-width="1" fill="none" shape-rendering="crispEdges"/><path d="M105.6 365.8L115.3 355.8L125.6 340.7L139.7 322.7L154.7 302.6L167.1 282.6L179.2 262.5L193.3 242.5L203.5 222.4L210.5 202.3L226.6 182.3L242.0 162.2L244.2 142.2L250.5 122.1L263.0 101.1L270.5 80.0" stroke="#ff8000" stroke-width="1" fill="none" shape-rendering="crispEdges"/><path d="M91.6 365.8L97.6 355.8L105.2 340.7L115.1 322.7L135.3 302.6L153.4 282.6L170.7 262.5L187.1 242.5L201.3 222.4L213.7 202.3L229.1 182.3L247.9 162.2L259.5 142.2L272.2 122.1L292.1 101.1L308.2 80.0" stroke="#ff8000" stroke-width="1" fill="none" shape-rendering="crispEdges"/><path d="M113.5 365.8L121.7 355.8L131.6 340.7L146.4 322.7L162.7 302.6L176.8 282.6L187.3 262.5L195.5 242.5L202.6 222.4L208.7 202.3L217.2 182.3L226.9 162.2L236.9 142.2L240.2 122.1L250.5 101.1L256.0 80.0" stroke="#ff8000" stroke-width="1" fill="none" shape-rendering="crispEdges"/><path d="M125.9 365.8L140.2 355.8L155.5 340.7L171.1 322.7L182.0 302.6L189.6 282.6L195.9 262.5L199.3 242.5L204.1 222.4L209.7 202.3L218.5 182.3L230.0 162.2L231.4 142.2L229.8 122.1L234.5 101.1L239.2 80.0" stroke="#ff8000" stroke-width="1" fill="none" shape-rendering="crispEdges"/><path d="M106.9 365.8L114.5 355.8L126.7 340.7L137.5 322.7L153.6 302.6L166.8 282.6L179.6 262.5L193.7 242.5L204.4 222.4L211.8 202.3L226.2 182.3L241.1 162.2L247.0 142.2L251.4 122.1L267.5 101.1L276.1 80.0" stroke="#ff8000" stroke-width="1" fill="none" shape-rendering="crispEdges"/><path d="M106.5 365.8L119.5 355.8L130.9 340.7L145.7 322.7L160.1 302.6L174.0 282.6L187.4 262.5L196.7 242.5L207.5 222.4L217.9 202.3L229.2 182.3L240.6 162.2L247.4 142.2L254.9 122.1L264.8 101.1L276.6 80.0" stroke="#ff8000" stroke-width="1" fill="none" shape-rendering="crispEdges"/><path d="M89.6 365.8L93.1 355.8L102.7 340.7L114.9 322.7L133.4 302.6L153.3 282.6L176.7 262.5L193.2 242.5L207.6 222.4L221.4 202.3L238.4 182.3L255.0 162.2L267.2 142.2L280.2 122.1L300.0 101.1L316.1 80.0" stroke="#ff8000" stroke-width="1" fill="none" shape-rendering="crispEdges"/><path d="M111.7 365.8L122.0 355.8L134.3 340.7L150.8 322.7L165.3 302.6L178.2 282.6L191.5 262.5L202.2 242.5L210.9 222.4L218.3 202.3L229.3 182.3L239.2 162.2L243.9 142.2L250.7 122.1L259.5 101.1L269.3 80.0" stroke="#ff8000" stroke-width="1" fill="none" shape-rendering="crispEdges"/><path d="M97.2 365.8L105.5 355.8L113.7 340.7L126.9 322.7L142.4 302.6L159.0 282.6L174.8 262.5L189.5 242.5L202.7 222.4L216.5 202.3L233.1 182.3L248.5 162.2L258.0 142.2L270.7 122.1L285.5 101.1L299.8 80.0" stroke="#ff8000" stroke-width="1" fill="none" shape-rendering="crispEdges"/><path d="M118.7 365.8L129.5 355.8L140.4 340.7L155.5 322.7L168.8 302.6L182.4 282.6L196.0 262.5L202.8 242.5L208.1 222.4L212.5 202.3L221.9 182.3L231.7 162.2L236.8 142.2L240.5 122.1L252.9 101.1L257.9 80.0" stroke="#ff8000" stroke-width="1" fill="none" shape-rendering="crispEdges"/><path d="M103.7 365.8L110.2 355.8L122.6 340.7L136.0 322.7L153.1 302.6L167.3 282.6L183.8 262.5L198.7 242.5L210.5 222.4L221.1 202.3L234.5 182.3L246.8 162.2L253.9 142.2L263.0 122.1L278.3 101.1L292.6 80.0" stroke="#ff8000" stroke-width="1" fill="none" shape-rendering="crispEdges"/><path d="M105.5 365.8L114.4 355.8L122.1 340.7L139.1 322.7L153.1 302.6L167.6 282.6L182.8 262.5L196.0 242.5L207.1 222.4L218.1 202.3L227.8 182.3L243.0 162.2L252.2 142.2L257.7 122.1L272.6 101.1L285.6 80.0" stroke="#ff8000" stroke-width="1" fill="none" shape-rendering="crispEdges"/><path d="M101.0 365.8L110.0 355.8L119.0 340.7L136.4 322.7L152.5 302.6L166.2 282.6L180.8 262.5L192.9 242.5L206.5 222.4L220.2 202.3L234.5 182.3L250.7 162.2L260.3 142.2L269.3 122.1L284.0 101.1L300.5 80.0" stroke="#ff8000" stroke-width="1" fill="none" shape-rendering="crispEdges"/><path d="M100.8 365.8L106.0 355.8L118.0 340.7L131.9 322.7L149.0 302.6L165.2 282.6L182.5 262.5L194.6 242.5L205.1 222.4L219.2 202.3L236.0 182.3L249.7 162.2L258.0 142.2L271.6 122.1L284.3 101.1L297.8 80.0" stroke="#ff8000" stroke-width="1" fill="none" shape-rendering="crispEdges"/><path d="M120.8 365.8L133.5 355.8L146.9 340.7L165.2 322.7L178.6 302.6L187.9 282.6L196.0 262.5L200.9 242.5L205.8 222.4L211.1 202.3L221.1 182.3L232.8 162.2L239.2 142.2L243.5 122.1L252.2 101.1L260.7 80.0" stroke="#ff8000" stroke-width="1" fill="none" shape-rendering="crispEdges"/><path d="M89.7 365.8L93.8 355.8L104.1 340.7L117.3 322.7L135.5 302.6L158.0 282.6L181.3 262.5L198.7 242.5L213.1 222.4L229.5 202.3L243.4 182.3L258.0 162.2L269.4 142.2L288.3 122.1L306.6 101.1L325.7 80.0" stroke="#ff8000" stroke-width="1" fill="none" shape-rendering="crispEdges"/><path d="M134.5 365.8L152.2 355.8L165.6 340.7L184.8 322.7L195.1 302.6L201.7 282.6L204.4 262.5L207.1 242.5L208.2 222.4L211.6 202.3L217.4 182.3L227.3 162.2L228.3 142.2L227.9 122.1L231.9 101.1L234.6 80.0" stroke="#ff8000" stroke-width="1" fill="none" shape-rendering="crispEdges"/><path d="M110.0 365.8L120.1 355.8L132.2 340.7L149.0 322.7L163.7 302.6L179.4 282.6L194.1 262.5L205.4 242.5L214.8 222.4L223.8 202.3L235.2 182.3L248.0 162.2L253.2 142.2L260.3 122.1L272.1 101.1L281.7 80.0" stroke="#ff8000" stroke-width="1" fill="none" shape-rendering="crispEdges"/><path d="M97.8 365.8L100.8 355.8L114.3 340.7L128.2 322.7L146.7 302.6L165.1 282.6L183.5 262.5L197.4 242.5L211.4 222.4L224.8 202.3L238.9 182.3L258.6 162.2L267.6 142.2L281.8 122.1L297.7 101.1L313.8 80.0" stroke="#ff8000" stroke-width="1" fill="none" shape-rendering="crispEdges"/><path d="M109.2 365.8L120.6 355.8L133.3 340.7L148.2 322.7L165.1 302.6L176.5 282.6L189.7 262.5L200.8 242.5L210.9 222.4L220.3 202.3L235.5 182.3L250.2 162.2L257.3 142.2L267.1 122.1L278.8 101.1L290.1 80.0" stroke="#ff8000" stroke-width="1" fill="none" shape-rendering="crispEdges"/><path d="M111.1 365.8L125.2 355.8L136.5 340.7L151.9 322.7L166.1 302.6L180.7 282.6L191.3 262.5L200.7 242.5L212.4 222.4L221.8 202.3L232.9 182.3L246.7 162.2L253.7 142.2L261.8 122.1L277.5 101.1L289.8 80.0" stroke="#ff8000" stroke-width="1" fill="none" shape-rendering="crispEdges"/><path d="M97.4 365.8L102.4 355.8L113.6 340.7L129.0 322.7L146.7 302.6L164.8 282.6L185.3 262.5L201.2 242.5L211.8 222.4L227.5 202.3L243.6 182.3L259.1 162.2L270.0 142.2L284.8 122.1L300.5 101.1L318.2 80.0" stroke="#ff8000" stroke-width="1" fill="none" shape-rendering="crispEdges"/><path d="M121.4 365.8L134.5 355.8L146.2 340.7L162.5 322.7L177.6 302.6L186.2 282.6L197.2 262.5L206.1 242.5L215.0 222.4L222.0 202.3L232.4 182.3L243.0 162.2L246.8 142.2L249.6 122.1L261.1 101.1L267.7 80.0" stroke="#ff8000" stroke-width="1" fill="none" shape-rendering="crispEdges"/><path d="M105.9 365.8L117.9 355.8L129.3 340.7L141.8 322.7L157.9 302.6L173.8 282.6L188.7 262.5L203.1 242.5L215.2 222.4L226.2 202.3L238.3 182.3L251.0 162.2L260.1 142.2L270.6 122.1L289.7 101.1L305.4 80.0" stroke="#ff8000" stroke-width="1" fill="none" shape-rendering="crispEdges"/><path d="M101.6 365.8L112.9 355.8L123.6 340.7L138.9 322.7L157.9 302.6L175.7 282.6L191.0 262.5L203.6 242.5L218.5 222.4L228.9 202.3L242.9 182.3L258.0 162.2L268.2 142.2L278.3 122.1L294.0 101.1L308.8 80.0" stroke="#ff8000" stroke-width="1" fill="none" shape-rendering="crispEdges"/><path d="M106.2 365.8L114.0 355.8L123.5 340.7L142.8 322.7L158.9 302.6L175.0 282.6L188.5 262.5L205.1 242.5L214.6 222.4L226.8 202.3L240.9 182.3L255.5 162.2L263.6 142.2L272.7 122.1L285.2 101.1L298.9 80.0" stroke="#ff8000" stroke-width="1" fill="none" shape-rendering="crispEdges"/><path d="M110.6 365.8L117.3 355.8L130.7 340.7L147.2 322.7L165.9 302.6L176.8 282.6L195.2 262.5L208.4 242.5L216.5 222.4L226.4 202.3L239.5 182.3L248.1 162.2L254.2 142.2L267.2 122.1L280.0 101.1L291.3 80.0" stroke="#ff8000" stroke-width="1" fill="none" shape-rendering="crispEdges"/><path d="M103.7 365.8L108.1 355.8L122.2 340.7L139.4 322.7L159.1 302.6L170.7 282.6L191.9 262.5L206.9 242.5L216.9 222.4L227.5 202.3L245.1 182.3L258.9 162.2L268.0 142.2L278.0 122.1L293.7 101.1L312.1 80.0" stroke="#ff8000" stroke-width="1" fill="none" shape-rendering="crispEdges"/><path d="M94.7 365.8L102.0 355.8L117.3 340.7L132.9 322.7L152.1 302.6L171.0 282.6L187.4 262.5L204.6 242.5L218.4 222.4L233.1 202.3L249.8 182.3L266.5 162.2L276.2 142.2L289.6 122.1L307.8 101.1L325.0 80.0" stroke="#ff8000" stroke-width="1" fill="none" shape-rendering="crispEdges"/><path d="M105.9 365.8L119.2 355.8L128.1 340.7L145.5 322.7L164.8 302.6L179.6 282.6L191.5 262.5L206.2 242.5L218.1 222.4L228.6 202.3L240.6 182.3L254.5 162.2L265.0 142.2L281.7 122.1L295.5 101.1L310.2 80.0" stroke="#ff8000" stroke-width="1" fill="none" shape-rendering="crispEdges"/><path d="M103.9 365.8L112.7 355.8L126.2 340.7L140.9 322.7L158.6 302.6L176.2 282.6L193.3 262.5L206.1 242.5L221.9 222.4L236.3 202.3L248.1 182.3L261.9 162.2L272.5 142.2L283.0 122.1L299.0 101.1L315.0 80.0" stroke="#ff8000" stroke-width="1" fill="none" shape-rendering="crispEdges"/><path d="M104.0 365.8L114.9 355.8L127.5 340.7L145.4 322.7L160.9 302.6L178.5 282.6L193.2 262.5L206.9 242.5L217.8 222.4L232.0 202.3L244.8 182.3L261.2 162.2L273.3 142.2L286.9 122.1L302.1 101.1L317.9 80.0" stroke="#ff8000" stroke-width="1" fill="none" shape-rendering="crispEdges"/><path d="M110.3 365.8L123.8 355.8L135.3 340.7L154.1 322.7L173.5 302.6L185.1 282.6L197.2 262.5L208.9 242.5L219.6 222.4L230.3 202.3L243.3 182.3L256.8 162.2L267.9 142.2L277.5 122.1L292.5 101.1L307.1 80.0" stroke="#ff8000" stroke-width="1" fill="none" shape-rendering="crispEdges"/><path d="M101.0 365.8L109.5 355.8L124.7 340.7L141.1 322.7L161.2 302.6L179.8 282.6L196.2 262.5L208.5 242.5L221.6 222.4L235.5 202.3L247.7 182.3L262.2 162.2L275.3 142.2L289.4 122.1L304.4 101.1L320.6 80.0" stroke="#ff8000" stroke-width="1" fill="none" shape-rendering="crispEdges"/><path d="M107.4 365.8L115.5 355.8L133.7 340.7L151.1 322.7L167.7 302.6L182.2 282.6L197.4 262.5L206.4 242.5L219.1 222.4L234.8 202.3L245.6 182.3L259.3 162.2L269.2 142.2L280.5 122.1L296.3 101.1L311.0 80.0" stroke="#ff8000" stroke-width="1" fill="none" shape-rendering="crispEdges"/><path d="M109.4 365.8L120.3 355.8L133.1 340.7L151.5 322.7L169.9 302.6L186.7 282.6L198.4 262.5L207.6 242.5L220.5 222.4L232.0 202.3L243.5 182.3L257.8 162.2L268.8 142.2L281.4 122.1L297.4 101.1L311.3 80.0" stroke="#ff8000" stroke-width="1" fill="none" shape-rendering="crispEdges"/><path d="M111.9 365.8L124.1 355.8L136.5 340.7L156.2 322.7L175.5 302.6L188.1 282.6L202.8 262.5L215.7 242.5L227.0 222.4L235.8 202.3L250.4 182.3L260.0 162.2L269.1 142.2L276.8 122.1L290.5 101.1L301.8 80.0" stroke="#ff8000" stroke-width="1" fill="none" shape-rendering="crispEdges"/><path d="M129.7 365.8L140.3 355.8L159.0 340.7L181.0 322.7L195.8 302.6L208.2 282.6L216.1 262.5L222.2 242.5L227.7 222.4L232.3 202.3L238.7 182.3L249.8 162.2L251.9 142.2L255.7 122.1L264.2 101.1L271.5 80.0" stroke="#ff8000" stroke-width="1" fill="none" shape-rendering="crispEdges"/><path d="M115.3 365.8L126.1 355.8L144.2 340.7L163.2 322.7L178.2 302.6L191.9 282.6L204.8 262.5L212.0 242.5L223.2 222.4L233.1 202.3L247.3 182.3L260.1 162.2L263.6 142.2L274.4 122.1L292.1 101.1L299.4 80.0" stroke="#ff8000" stroke-width="1" fill="none" shape-rendering="crispEdges"/><path d="M106.9 365.8L117.4 355.8L134.4 340.7L150.2 322.7L167.9 302.6L187.8 282.6L202.9 262.5L215.3 242.5L230.7 222.4L241.6 202.3L255.5 182.3L267.0 162.2L276.2 142.2L289.6 122.1L306.8 101.1L320.3 80.0" stroke="#ff8000" stroke-width="1" fill="none" shape-rendering="crispEdges"/><path d="M116.9 365.8L127.0 355.8L142.2 340.7L162.1 322.7L179.9 302.6L193.9 282.6L208.6 262.5L219.4 242.5L229.9 222.4L237.7 202.3L248.0 182.3L258.6 162.2L264.7 142.2L274.5 122.1L288.0 101.1L298.7 80.0" stroke="#ff8000" stroke-width="1" fill="none" shape-rendering="crispEdges"/><path d="M125.2 365.8L139.9 355.8L154.3 340.7L174.2 322.7L188.3 302.6L199.1 282.6L210.7 262.5L216.8 242.5L224.3 222.4L233.6 202.3L242.1 182.3L252.6 162.2L259.7 142.2L263.2 122.1L274.9 101.1L281.6 80.0" stroke="#ff8000" stroke-width="1" fill="none" shape-rendering="crispEdges"/><path d="M127.1 365.8L141.9 355.8L158.5 340.7L179.4 322.7L198.1 302.6L206.7 282.6L217.5 262.5L223.1 242.5L230.7 222.4L234.2 202.3L242.3 182.3L250.3 162.2L254.6 142.2L260.6 122.1L270.3 101.1L278.6 80.0" stroke="#ff8000" stroke-width="1" fill="none" shape-rendering="crispEdges"/><path d="M105.3 365.8L115.4 355.8L129.2 340.7L145.4 322.7L164.2 302.6L180.7 282.6L200.3 262.5L217.3 242.5L233.7 222.4L245.8 202.3L257.3 182.3L270.3 162.2L280.6 142.2L294.0 122.1L312.5 101.1L330.0 80.0" stroke="#ff8000" stroke-width="1" fill="none" shape-rendering="crispEdges"/><path d="M99.5 365.8L107.8 355.8L118.8 340.7L138.5 322.7L161.7 302.6L181.2 282.6L196.1 262.5L214.9 242.5L231.5 222.4L242.7 202.3L256.3 182.3L269.6 162.2L281.3 142.2L297.3 122.1L317.3 101.1L336.4 80.0" stroke="#ff8000" stroke-width="1" fill="none" shape-rendering="crispEdges"/><path d="M124.1 365.8L135.0 355.8L151.1 340.7L173.9 322.7L187.6 302.6L201.4 282.6L211.8 262.5L219.3 242.5L226.8 222.4L235.6 202.3L243.6 182.3L253.8 162.2L260.1 142.2L268.9 122.1L277.7 101.1L281.2 80.0" stroke="#ff8000" stroke-width="1" fill="none" shape-rendering="crispEdges"/><path d="M125.6 365.8L140.7 355.8L159.4 340.7L180.3 322.7L194.9 302.6L207.4 282.6L218.1 262.5L223.3 242.5L233.2 222.4L239.5 202.3L247.5 182.3L256.0 162.2L261.1 142.2L267.7 122.1L279.7 101.1L286.2 80.0" stroke="#ff8000" stroke-width="1" fill="none" shape-rendering="crispEdges"/><path d="M111.6 365.8L119.9 355.8L134.9 340.7L157.7 322.7L177.3 302.6L193.5 282.6L208.0 262.5L222.0 242.5L231.4 222.4L241.5 202.3L251.6 182.3L264.3 162.2L274.8 142.2L287.8 122.1L302.3 101.1L317.1 80.0" stroke="#ff8000" stroke-width="1" fill="none" shape-rendering="crispEdges"/><path d="M122.6 365.8L136.4 355.8L152.0 340.7L174.7 322.7L194.4 302.6L207.6 282.6L219.6 262.5L227.3 242.5L236.1 222.4L242.3 202.3L250.9 182.3L259.6 162.2L269.3 142.2L279.6 122.1L293.0 101.1L303.2 80.0" stroke="#ff8000" stroke-width="1" fill="none" shape-rendering="crispEdges"/><path d="M140.2 365.8L156.3 355.8L174.5 340.7L197.6 322.7L211.1 302.6L216.3 282.6L223.0 262.5L226.1 242.5L229.7 222.4L232.7 202.3L242.2 182.3L248.7 162.2L252.4 142.2L255.3 122.1L261.1 101.1L263.7 80.0" stroke="#ff8000" stroke-width="1" fill="none" shape-rendering="crispEdges"/><path d="M109.9 365.8L124.0 355.8L134.7 340.7L156.7 322.7L177.0 302.6L195.9 282.6L208.4 262.5L223.2 242.5L233.4 222.4L243.3 202.3L255.8 182.3L273.4 162.2L281.2 142.2L296.6 122.1L315.2 101.1L327.1 80.0" stroke="#ff8000" stroke-width="1" fill="none" shape-rendering="crispEdges"/><path d="M131.6 365.8L147.5 355.8L167.0 340.7L188.2 322.7L204.9 302.6L214.1 282.6L219.7 262.5L226.0 242.5L231.9 222.4L236.1 202.3L243.2 182.3L253.7 162.2L259.0 142.2L265.3 122.1L275.5 101.1L284.3 80.0" stroke="#ff8000" stroke-width="1" fill="none" shape-rendering="crispEdges"/><path d="M130.0 365.8L147.6 355.8L163.5 340.7L184.6 322.7L199.2 302.6L210.2 282.6L217.6 262.5L225.4 242.5L233.1 222.4L239.6 202.3L247.5 182.3L257.3 162.2L263.7 142.2L271.3 122.1L283.7 101.1L291.5 80.0" stroke="#ff8000" stroke-width="1" fill="none" shape-rendering="crispEdges"/><path d="M111.5 365.8L122.3 355.8L137.2 340.7L156.4 322.7L176.2 302.6L192.8 282.6L211.6 262.5L226.0 242.5L239.6 222.4L250.9 202.3L262.3 182.3L274.2 162.2L280.7 142.2L295.7 122.1L311.4 101.1L327.5 80.0" stroke="#ff8000" stroke-width="1" fill="none" shape-rendering="crispEdges"/><path d="M129.4 365.8L143.0 355.8L160.0 340.7L184.5 322.7L202.8 302.6L214.4 282.6L225.3 262.5L233.3 242.5L240.3 222.4L247.9 202.3L253.1 182.3L261.6 162.2L266.4 142.2L275.2 122.1L289.1 101.1L300.9 80.0" stroke="#ff8000" stroke-width="1" fill="none" shape-rendering="crispEdges"/><path d="M123.2 365.8L132.3 355.8L150.6 340.7L176.4 322.7L191.9 302.6L202.6 282.6L212.8 262.5L222.2 242.5L231.6 222.4L243.1 202.3L252.4 182.3L262.9 162.2L268.2 142.2L280.4 122.1L294.6 101.1L305.9 80.0" stroke="#ff8000" stroke-width="1" fill="none" shape-rendering="crispEdges"/><path d="M131.8 365.8L143.4 355.8L161.4 340.7L184.0 322.7L202.1 302.6L213.5 282.6L224.7 262.5L232.3 242.5L240.9 222.4L247.3 202.3L253.2 182.3L260.1 162.2L265.2 142.2L271.1 122.1L281.2 101.1L291.1 80.0" stroke="#ff8000" stroke-width="1" fill="none" shape-rendering="crispEdges"/><path d="M114.8 365.8L124.3 355.8L142.0 340.7L162.4 322.7L182.1 302.6L201.1 282.6L216.7 262.5L229.8 242.5L241.3 222.4L252.3 202.3L261.3 182.3L270.8 162.2L280.6 142.2L293.9 122.1L310.0 101.1L324.5 80.0" stroke="#ff8000" stroke-width="1" fill="none" shape-rendering="crispEdges"/><path d="M127.9 365.8L138.5 355.8L159.7 340.7L179.8 322.7L195.8 302.6L206.3 282.6L219.7 262.5L229.2 242.5L237.7 222.4L247.2 202.3L256.2 182.3L262.3 162.2L265.9 142.2L275.0 122.1L288.8 101.1L300.5 80.0" stroke="#ff8000" stroke-width="1" fill="none" shape-rendering="crispEdges"/><path d="M126.9 365.8L143.1 355.8L159.8 340.7L177.8 322.7L195.4 302.6L205.9 282.6L219.9 262.5L229.3 242.5L241.2 222.4L247.0 202.3L255.6 182.3L265.4 162.2L272.1 142.2L281.2 122.1L295.1 101.1L304.9 80.0" stroke="#ff8000" stroke-width="1" fill="none" shape-rendering="crispEdges"/><path d="M118.7 365.8L134.7 355.8L151.8 340.7L170.7 322.7L190.4 302.6L205.5 282.6L218.6 262.5L231.1 242.5L242.9 222.4L252.1 202.3L262.7 182.3L272.8 162.2L285.3 142.2L300.1 122.1L313.2 101.1L327.7 80.0" stroke="#ff8000" stroke-width="1" fill="none" shape-rendering="crispEdges"/><path d="M116.6 365.8L126.4 355.8L142.2 340.7L161.9 322.7L182.3 302.6L201.6 282.6L218.1 262.5L229.6 242.5L242.5 222.4L252.5 202.3L262.6 182.3L271.9 162.2L278.8 142.2L293.4 122.1L311.0 101.1L326.7 80.0" stroke="#ff8000" stroke-width="1" fill="none" shape-rendering="crispEdges"/><path d="M140.0 365.8L157.7 355.8L178.3 340.7L201.9 322.7L215.5 302.6L223.6 282.6L232.2 262.5L235.8 242.5L238.9 222.4L242.6 202.3L248.7 182.3L255.5 162.2L260.0 142.2L266.3 122.1L276.3 101.1L283.8 80.0" stroke="#ff8000" stroke-width="1" fill="none" shape-rendering="crispEdges"/><path d="M115.9 365.8L125.9 355.8L145.0 340.7L167.0 322.7L188.7 302.6L206.2 282.6L219.6 262.5L231.4 242.5L245.3 222.4L252.1 202.3L261.3 182.3L273.7 162.2L281.8 142.2L297.0 122.1L314.1 101.1L331.9 80.0" stroke="#ff8000" stroke-width="1" fill="none" shape-rendering="crispEdges"/><path d="M128.8 365.8L143.4 355.8L160.0 340.7L183.7 322.7L202.5 302.6L216.8 282.6L230.3 262.5L239.2 242.5L247.5 222.4L254.5 202.3L262.0 182.3L270.5 162.2L276.9 142.2L286.2 122.1L298.3 101.1L307.8 80.0" stroke="#ff8000" stroke-width="1" fill="none" shape-rendering="crispEdges"/><path d="M110.4 365.8L119.0 355.8L135.0 340.7L155.3 322.7L178.9 302.6L197.7 282.6L215.4 262.5L229.9 242.5L243.6 222.4L255.8 202.3L268.4 182.3L280.7 162.2L292.8 142.2L310.3 122.1L330.3 101.1L347.1 80.0" stroke="#ff8000" stroke-width="1" fill="none" shape-rendering="crispEdges"/><path d="M119.1 365.8L130.1 355.8L150.0 340.7L174.2 322.7L193.6 302.6L206.9 282.6L222.5 262.5L235.4 242.5L244.6 222.4L253.0 202.3L266.5 182.3L277.1 162.2L284.3 142.2L297.3 122.1L317.8 101.1L333.2 80.0" stroke="#ff8000" stroke-width="1" fill="none" shape-rendering="crispEdges"/><path d="M125.4 365.8L141.2 355.8L158.9 340.7L180.6 322.7L199.1 302.6L214.2 282.6L225.1 262.5L234.9 242.5L245.9 222.4L253.5 202.3L260.7 182.3L269.0 162.2L276.3 142.2L287.9 122.1L303.3 101.1L317.4 80.0" stroke="#ff8000" stroke-width="1" fill="none" shape-rendering="crispEdges"/><path d="M133.0 365.8L151.4 355.8L167.8 340.7L187.6 322.7L206.6 302.6L218.1 282.6L228.9 262.5L236.0 242.5L244.6 222.4L250.7 202.3L257.0 182.3L266.6 162.2L275.3 142.2L284.9 122.1L294.8 101.1L305.6 80.0" stroke="#ff8000" stroke-width="1" fill="none" shape-rendering="crispEdges"/><path d="M118.8 365.8L134.7 355.8L147.3 340.7L168.1 322.7L190.8 302.6L205.8 282.6L221.4 262.5L235.9 242.5L248.2 222.4L261.2 202.3L272.6 182.3L284.3 162.2L293.7 142.2L310.3 122.1L327.4 101.1L341.8 80.0" stroke="#ff8000" stroke-width="1" fill="none" shape-rendering="crispEdges"/><path d="M132.7 365.8L154.6 355.8L169.9 340.7L192.9 322.7L213.3 302.6L223.6 282.6L231.4 262.5L243.7 242.5L250.5 222.4L254.4 202.3L262.8 182.3L273.8 162.2L277.4 142.2L289.1 122.1L299.1 101.1L307.1 80.0" stroke="#ff8000" stroke-width="1" fill="none" shape-rendering="crispEdges"/><path d="M123.4 365.8L134.9 355.8L151.7 340.7L178.8 322.7L196.7 302.6L212.5 282.6L226.5 262.5L239.1 242.5L246.4 222.4L256.9 202.3L266.7 182.3L275.7 162.2L281.5 142.2L293.9 122.1L308.5 101.1L321.8 80.0" stroke="#ff8000" stroke-width="1" fill="none" shape-rendering="crispEdges"/><path d="M120.1 365.8L133.7 355.8L152.4 340.7L177.9 322.7L197.6 302.6L212.3 282.6L225.7 262.5L235.8 242.5L245.2 222.4L255.2 202.3L266.6 182.3L276.6 162.2L287.7 142.2L304.7 122.1L322.2 101.1L335.4 80.0" stroke="#ff8000" stroke-width="1" fill="none" shape-rendering="crispEdges"/><path d="M130.2 365.8L144.4 355.8L161.8 340.7L186.1 322.7L204.0 302.6L219.2 282.6L230.8 262.5L239.9 242.5L251.7 222.4L259.1 202.3L266.6 182.3L275.3 162.2L284.6 142.2L292.7 122.1L306.2 101.1L318.5 80.0" stroke="#ff8000" stroke-width="1" fill="none" shape-rendering="crispEdges"/><path d="M129.2 365.8L141.7 355.8L160.9 340.7L187.2 322.7L207.7 302.6L222.2 282.6L233.7 262.5L242.7 242.5L250.2 222.4L256.1 202.3L262.5 182.3L270.2 162.2L277.8 142.2L290.5 122.1L305.6 101.1L317.8 80.0" stroke="#ff8000" stroke-width="1" fill="none" shape-rendering="crispEdges"/><path d="M134.6 365.8L150.3 355.8L167.1 340.7L191.7 322.7L211.6 302.6L225.8 282.6L234.6 262.5L243.9 242.5L251.0 222.4L257.6 202.3L263.9 182.3L272.6 162.2L278.9 142.2L289.0 122.1L300.1 101.1L312.4 80.0" stroke="#ff8000" stroke-width="1" fill="none" shape-rendering="crispEdges"/><path d="M134.0 365.8L149.1 355.8L166.7 340.7L193.2 322.7L209.9 302.6L223.2 282.6L234.9 262.5L244.3 242.5L254.3 222.4L261.6 202.3L269.2 182.3L275.7 162.2L279.9 142.2L289.9 122.1L302.0 101.1L312.5 80.0" stroke="#ff8000" stroke-width="1" fill="none" shape-rendering="crispEdges"/><path d="M128.6 365.8L142.6 355.8L160.7 340.7L185.5 322.7L207.9 302.6L219.7 282.6L231.7 262.5L244.2 242.5L251.5 222.4L255.4 202.3L265.9 182.3L274.3 162.2L280.4 142.2L295.5 122.1L313.0 101.1L325.6 80.0" stroke="#ff8000" stroke-width="1" fill="none" shape-rendering="crispEdges"/><path d="M120.8 365.8L133.9 355.8L151.6 340.7L177.6 322.7L197.9 302.6L213.3 282.6L227.7 262.5L238.4 242.5L249.4 222.4L259.0 202.3L271.1 182.3L282.8 162.2L294.3 142.2L311.5 122.1L330.7 101.1L345.4 80.0" stroke="#ff8000" stroke-width="1" fill="none" shape-rendering="crispEdges"/><path d="M125.8 365.8L139.9 355.8L161.1 340.7L185.5 322.7L205.4 302.6L220.5 282.6L233.0 262.5L238.8 242.5L250.7 222.4L261.1 202.3L271.0 182.3L281.6 162.2L292.2 142.2L305.2 122.1L319.8 101.1L334.5 80.0" stroke="#ff8000" stroke-width="1" fill="none" shape-rendering="crispEdges"/><path d="M132.6 365.8L148.0 355.8L166.4 340.7L189.3 322.7L210.3 302.6L223.3 282.6L233.6 262.5L242.7 242.5L253.6 222.4L262.0 202.3L271.9 182.3L280.1 162.2L287.7 142.2L298.5 122.1L311.5 101.1L324.0 80.0" stroke="#ff8000" stroke-width="1" fill="none" shape-rendering="crispEdges"/><path d="M138.4 365.8L160.1 355.8L179.2 340.7L201.8 322.7L220.3 302.6L233.3 282.6L239.4 262.5L244.8 242.5L257.4 222.4L261.4 202.3L268.9 182.3L276.9 162.2L284.2 142.2L293.5 122.1L307.4 101.1L317.6 80.0" stroke="#ff8000" stroke-width="1" fill="none" shape-rendering="crispEdges"/><path d="M134.0 365.8L150.8 355.8L170.7 340.7L194.6 322.7L213.5 302.6L225.9 282.6L237.2 262.5L244.7 242.5L256.1 222.4L264.1 202.3L269.5 182.3L276.9 162.2L282.0 142.2L292.2 122.1L304.7 101.1L317.2 80.0" stroke="#ff8000" stroke-width="1" fill="none" shape-rendering="crispEdges"/><path d="M125.0 365.8L138.4 355.8L159.5 340.7L185.4 322.7L205.8 302.6L223.0 282.6L234.8 262.5L244.9 242.5L257.4 222.4L268.3 202.3L276.2 182.3L286.0 162.2L296.9 142.2L312.3 122.1L328.7 101.1L342.9 80.0" stroke="#ff8000" stroke-width="1" fill="none" shape-rendering="crispEdges"/><path d="M126.0 365.8L141.4 355.8L161.0 340.7L188.3 322.7L210.8 302.6L224.1 282.6L238.1 262.5L249.4 242.5L258.7 222.4L267.2 202.3L279.1 182.3L286.6 162.2L293.2 142.2L307.4 122.1L323.8 101.1L337.2 80.0" stroke="#ff8000" stroke-width="1" fill="none" shape-rendering="crispEdges"/><path d="M123.3 365.8L135.3 355.8L152.3 340.7L176.2 322.7L197.9 302.6L217.8 282.6L231.3 262.5L243.9 242.5L256.8 222.4L269.2 202.3L274.8 182.3L286.5 162.2L297.5 142.2L314.5 122.1L331.1 101.1L349.0 80.0" stroke="#ff8000" stroke-width="1" fill="none" shape-rendering="crispEdges"/><path d="M129.9 365.8L143.2 355.8L161.1 340.7L186.7 322.7L205.3 302.6L218.5 282.6L233.9 262.5L245.3 242.5L255.0 222.4L264.8 202.3L271.9 182.3L276.6 162.2L284.8 142.2L303.0 122.1L318.0 101.1L333.1 80.0" stroke="#ff8000" stroke-width="1" fill="none" shape-rendering="crispEdges"/><path d="M125.1 365.8L130.4 355.8L152.0 340.7L180.0 322.7L200.4 302.6L213.0 282.6L226.3 262.5L238.2 242.5L248.1 222.4L256.7 202.3L265.8 182.3L268.5 162.2L279.5 142.2L298.4 122.1L314.4 101.1L329.4 80.0" stroke="#ff8000" stroke-width="1" fill="none" shape-rendering="crispEdges"/><path d="M136.9 365.8L153.7 355.8L171.5 340.7L198.4 322.7L217.6 302.6L230.9 282.6L241.5 262.5L250.3 242.5L260.1 222.4L267.4 202.3L273.7 182.3L282.4 162.2L289.5 142.2L300.9 122.1L315.3 101.1L327.8 80.0" stroke="#ff8000" stroke-width="1" fill="none" shape-rendering="crispEdges"/><path d="M140.7 365.8L159.4 355.8L182.1 340.7L210.7 322.7L224.2 302.6L237.3 282.6L243.4 262.5L249.4 242.5L259.5 222.4L264.7 202.3L267.4 182.3L273.7 162.2L279.9 142.2L288.3 122.1L302.6 101.1L315.4 80.0" stroke="#ff8000" stroke-width="1" fill="none" shape-rendering="crispEdges"/><path d="M119.3 365.8L131.2 355.8L152.8 340.7L178.7 322.7L201.9 302.6L218.1 282.6L230.8 262.5L244.9 242.5L257.5 222.4L269.9 202.3L282.9 182.3L293.6 162.2L304.3 142.2L321.6 122.1L337.1 101.1L348.5 80.0" stroke="#ff8000" stroke-width="1" fill="none" shape-rendering="crispEdges"/><path d="M119.9 365.8L135.9 355.8L153.3 340.7L179.5 322.7L198.5 302.6L216.7 282.6L231.2 262.5L244.9 242.5L258.0 222.4L272.5 202.3L283.8 182.3L293.7 162.2L307.5 142.2L319.9 122.1L334.9 101.1L352.5 80.0" stroke="#ff8000" stroke-width="1" fill="none" shape-rendering="crispEdges"/><path d="M141.4 365.8L164.3 355.8L185.6 340.7L213.1 322.7L232.4 302.6L244.8 282.6L249.7 262.5L255.6 242.5L263.3 222.4L268.1 202.3L271.4 182.3L274.4 162.2L280.7 142.2L291.1 122.1L303.3 101.1L312.3 80.0" stroke="#ff8000" stroke-width="1" fill="none" shape-rendering="crispEdges"/><path d="M140.8 365.8L157.6 355.8L180.4 340.7L205.0 322.7L225.4 302.6L235.6 282.6L244.4 262.5L251.6 242.5L262.4 222.4L270.7 202.3L273.3 182.3L282.1 162.2L288.2 142.2L295.3 122.1L307.3 101.1L320.8 80.0" stroke="#ff8000" stroke-width="1" fill="none" shape-rendering="crispEdges"/><path d="M138.0 365.8L154.8 355.8L175.3 340.7L204.1 322.7L225.9 302.6L237.6 282.6L242.9 262.5L253.4 242.5L263.0 222.4L267.9 202.3L273.9 182.3L286.3 162.2L293.9 142.2L304.1 122.1L318.1 101.1L330.5 80.0" stroke="#ff8000" stroke-width="1" fill="none" shape-rendering="crispEdges"/><path d="M133.5 365.8L149.2 355.8L170.2 340.7L197.2 322.7L216.5 302.6L230.5 282.6L239.8 262.5L249.3 242.5L260.4 222.4L267.8 202.3L275.8 182.3L286.2 162.2L296.6 142.2L309.4 122.1L326.4 101.1L337.9 80.0" stroke="#ff8000" stroke-width="1" fill="none" shape-rendering="crispEdges"/><path d="M119.2 365.8L130.5 355.8L149.8 340.7L175.8 322.7L197.5 302.6L217.1 282.6L233.8 262.5L248.1 242.5L263.8 222.4L277.4 202.3L288.1 182.3L296.2 162.2L307.4 142.2L322.5 122.1L338.8 101.1L353.0 80.0" stroke="#ff8000" stroke-width="1" fill="none" shape-rendering="crispEdges"/><path d="M142.1 365.8L159.4 355.8L181.6 340.7L212.2 322.7L234.4 302.6L245.2 282.6L254.8 262.5L259.0 242.5L267.1 222.4L273.1 202.3L274.4 182.3L281.3 162.2L292.2 142.2L303.9 122.1L315.6 101.1L329.1 80.0" stroke="#ff8000" stroke-width="1" fill="none" shape-rendering="crispEdges"/><path d="M125.0 365.8L141.5 355.8L159.9 340.7L185.8 322.7L208.7 302.6L225.0 282.6L238.6 262.5L251.6 242.5L264.2 222.4L274.5 202.3L282.7 182.3L292.7 162.2L303.9 142.2L321.6 122.1L340.3 101.1L355.6 80.0" stroke="#ff8000" stroke-width="1" fill="none" shape-rendering="crispEdges"/><path d="M141.7 365.8L158.5 355.8L181.5 340.7L212.1 322.7L232.1 302.6L245.4 282.6L254.0 262.5L259.3 242.5L264.1 222.4L269.4 202.3L273.4 182.3L281.0 162.2L286.3 142.2L296.3 122.1L302.8 101.1L311.1 80.0" stroke="#ff8000" stroke-width="1" fill="none" shape-rendering="crispEdges"/><path d="M137.8 365.8L153.2 355.8L175.4 340.7L204.4 322.7L222.4 302.6L233.0 282.6L246.2 262.5L252.1 242.5L261.0 222.4L270.8 202.3L277.8 182.3L284.0 162.2L289.3 142.2L303.2 122.1L317.1 101.1L330.3 80.0" stroke="#ff8000" stroke-width="1" fill="none" shape-rendering="crispEdges"/><path d="M140.0 365.8L161.4 355.8L183.9 340.7L213.9 322.7L230.9 302.6L243.1 282.6L249.5 262.5L257.3 242.5L264.5 222.4L272.4 202.3L278.3 182.3L287.7 162.2L291.8 142.2L302.3 122.1L316.8 101.1L328.7 80.0" stroke="#ff8000" stroke-width="1" fill="none" shape-rendering="crispEdges"/><path d="M136.4 365.8L153.5 355.8L176.2 340.7L204.5 322.7L223.1 302.6L237.1 282.6L245.9 262.5L256.2 242.5L268.5 222.4L276.7 202.3L285.6 182.3L293.1 162.2L300.0 142.2L313.5 122.1L330.2 101.1L341.9 80.0" stroke="#ff8000" stroke-width="1" fill="none" shape-rendering="crispEdges"/><path d="M139.2 365.8L157.2 355.8L179.8 340.7L210.8 322.7L230.6 302.6L243.0 282.6L251.7 262.5L259.1 242.5L267.5 222.4L272.1 202.3L278.8 182.3L285.7 162.2L295.9 142.2L309.4 122.1L324.8 101.1L334.4 80.0" stroke="#ff8000" stroke-width="1" fill="none" shape-rendering="crispEdges"/><path d="M129.3 365.8L144.0 355.8L166.6 340.7L195.4 322.7L217.4 302.6L236.2 282.6L246.4 262.5L256.6 242.5L266.4 222.4L277.4 202.3L283.4 182.3L296.4 162.2L304.6 142.2L322.5 122.1L337.0 101.1L352.2 80.0" stroke="#ff8000" stroke-width="1" fill="none" shape-rendering="crispEdges"/><path d="M142.5 365.8L160.1 355.8L181.4 340.7L210.7 322.7L232.6 302.6L243.9 282.6L255.4 262.5L262.2 242.5L269.4 222.4L273.7 202.3L279.2 182.3L284.7 162.2L290.1 142.2L302.4 122.1L316.9 101.1L326.3 80.0" stroke="#ff8000" stroke-width="1" fill="none" shape-rendering="crispEdges"/><path d="M140.4 365.8L159.4 355.8L182.6 340.7L211.8 322.7L231.9 302.6L246.2 282.6L254.6 262.5L260.5 242.5L271.7 222.4L280.4 202.3L283.6 182.3L288.7 162.2L293.6 142.2L304.2 122.1L315.5 101.1L325.6 80.0" stroke="#ff8000" stroke-width="1" fill="none" shape-rendering="crispEdges"/><path d="M126.3 365.8L139.7 355.8L160.6 340.7L188.9 322.7L211.4 302.6L228.9 282.6L244.6 262.5L257.4 242.5L271.0 222.4L282.4 202.3L291.7 182.3L299.6 162.2L308.2 142.2L325.4 122.1L342.2 101.1L354.6 80.0" stroke="#ff8000" stroke-width="1" fill="none" shape-rendering="crispEdges"/><path d="M144.4 365.8L162.4 355.8L185.6 340.7L214.1 322.7L236.3 302.6L246.4 282.6L254.8 262.5L261.2 242.5L268.5 222.4L273.7 202.3L277.4 182.3L283.1 162.2L287.1 142.2L294.9 122.1L302.5 101.1L307.2 80.0" stroke="#ff8000" stroke-width="1" fill="none" shape-rendering="crispEdges"/><path d="M136.5 365.8L152.1 355.8L171.0 340.7L198.5 322.7L223.1 302.6L237.4 282.6L251.9 262.5L263.8 242.5L273.6 222.4L278.3 202.3L288.4 182.3L296.3 162.2L302.0 142.2L319.4 122.1L339.3 101.1L350.2 80.0" stroke="#ff8000" stroke-width="1" fill="none" shape-rendering="crispEdges"/><path d="M136.1 365.8L152.2 355.8L171.3 340.7L200.6 322.7L222.6 302.6L237.8 282.6L251.3 262.5L262.0 242.5L273.6 222.4L283.6 202.3L291.9 182.3L297.9 162.2L307.0 142.2L321.4 122.1L336.7 101.1L349.7 80.0" stroke="#ff8000" stroke-width="1" fill="none" shape-rendering="crispEdges"/><path d="M129.9 365.8L146.2 355.8L171.1 340.7L198.2 322.7L218.8 302.6L234.1 282.6L251.4 262.5L260.2 242.5L271.2 222.4L286.3 202.3L292.1 182.3L298.6 162.2L308.7 142.2L326.2 122.1L336.9 101.1L356.5 80.0" stroke="#ff8000" stroke-width="1" fill="none" shape-rendering="crispEdges"/><path d="M140.7 365.8L159.6 355.8L181.6 340.7L211.8 322.7L229.8 302.6L244.6 282.6L253.5 262.5L261.9 242.5L272.4 222.4L282.0 202.3L288.7 182.3L294.6 162.2L305.5 142.2L319.3 122.1L336.7 101.1L349.1 80.0" stroke="#ff8000" stroke-width="1" fill="none" shape-rendering="crispEdges"/><path d="M131.2 365.8L146.6 355.8L163.1 340.7L193.2 322.7L218.1 302.6L236.4 282.6L249.9 262.5L263.9 242.5L276.7 222.4L286.0 202.3L289.0 182.3L296.5 162.2L304.1 142.2L321.6 122.1L339.5 101.1L356.5 80.0" stroke="#ff8000" stroke-width="1" fill="none" shape-rendering="crispEdges"/><path d="M135.2 365.8L152.5 355.8L174.9 340.7L205.0 322.7L227.9 302.6L245.8 282.6L255.1 262.5L266.7 242.5L277.9 222.4L288.3 202.3L295.0 182.3L299.5 162.2L307.1 142.2L321.9 122.1L337.5 101.1L351.6 80.0" stroke="#ff8000" stroke-width="1" fill="none" shape-rendering="crispEdges"/><path d="M110.7 365.8L124.3 355.8L141.6 340.7L167.0 322.7L191.9 302.6L211.7 282.6L233.1 262.5L242.8 242.5L255.3 222.4L264.8 202.3L271.0 182.3L276.0 162.2L279.4 142.2L283.3 122.1L288.9 101.1L296.9 80.0" stroke="#ff8000" stroke-width="1" fill="none" shape-rendering="crispEdges"/><path d="M109.9 365.8L125.1 355.8L142.7 340.7L168.7 322.7L196.2 302.6L213.8 282.6L235.0 262.5L244.6 242.5L252.9 222.4L260.4 202.3L266.6 182.3L271.8 162.2L278.1 142.2L284.5 122.1L290.8 101.1L299.2 80.0" stroke="#ff8000" stroke-width="1" fill="none" shape-rendering="crispEdges"/><path d="M111.3 365.8L127.7 355.8L144.8 340.7L169.5 322.7L193.0 302.6L213.7 282.6L235.0 262.5L245.5 242.5L255.3 222.4L263.8 202.3L268.7 182.3L274.0 162.2L279.0 142.2L283.0 122.1L289.5 101.1L297.7 80.0" stroke="#ff8000" stroke-width="1" fill="none" shape-rendering="crispEdges"/><path d="M112.4 365.8L124.7 355.8L142.0 340.7L169.0 322.7L196.2 302.6L214.5 282.6L235.9 262.5L245.8 242.5L257.0 222.4L265.4 202.3L271.2 182.3L275.4 162.2L279.1 142.2L283.0 122.1L289.6 101.1L297.2 80.0" stroke="#ff8000" stroke-width="1" fill="none" shape-rendering="crispEdges"/><path d="M108.8 365.8L125.4 355.8L144.6 340.7L169.6 322.7L194.4 302.6L214.3 282.6L234.9 262.5L244.6 242.5L254.4 222.4L263.8 202.3L270.1 182.3L276.2 162.2L282.0 142.2L290.1 122.1L297.9 101.1L306.7 80.0" stroke="#ff8000" stroke-width="1" fill="none" shape-rendering="crispEdges"/><path d="M116.2 365.8L130.4 355.8L147.2 340.7L173.1 322.7L200.0 302.6L218.3 282.6L238.2 262.5L248.5 242.5L259.7 222.4L266.9 202.3L271.7 182.3L274.2 162.2L278.8 142.2L282.6 122.1L288.5 101.1L296.9 80.0" stroke="#ff8000" stroke-width="1" fill="none" shape-rendering="crispEdges"/><path d="M111.3 365.8L126.9 355.8L146.1 340.7L172.7 322.7L198.3 302.6L216.7 282.6L237.0 262.5L248.2 242.5L256.9 222.4L265.4 202.3L272.3 182.3L276.5 162.2L279.4 142.2L286.3 122.1L293.7 101.1L303.5 80.0" stroke="#ff8000" stroke-width="1" fill="none" shape-rendering="crispEdges"/><path d="M113.9 365.8L127.0 355.8L144.4 340.7L170.4 322.7L199.2 302.6L218.1 282.6L237.6 262.5L247.8 242.5L256.9 222.4L261.9 202.3L269.8 182.3L277.1 162.2L281.8 142.2L289.3 122.1L296.2 101.1L302.5 80.0" stroke="#ff8000" stroke-width="1" fill="none" shape-rendering="crispEdges"/><path d="M116.4 365.8L129.9 355.8L147.7 340.7L174.7 322.7L203.4 302.6L221.1 282.6L241.5 262.5L249.0 242.5L258.9 222.4L265.3 202.3L271.2 182.3L274.3 162.2L281.3 142.2L287.4 122.1L294.2 101.1L301.6 80.0" stroke="#ff8000" stroke-width="1" fill="none" shape-rendering="crispEdges"/><path d="M112.4 365.8L124.0 355.8L143.7 340.7L169.9 322.7L199.4 302.6L218.3 282.6L237.4 262.5L249.2 242.5L259.3 222.4L263.9 202.3L269.6 182.3L275.9 162.2L280.8 142.2L289.4 122.1L298.6 101.1L309.2 80.0" stroke="#ff8000" stroke-width="1" fill="none" shape-rendering="crispEdges"/><path d="M116.5 365.8L131.6 355.8L147.9 340.7L175.4 322.7L201.2 302.6L219.5 282.6L238.4 262.5L248.2 242.5L259.6 222.4L268.7 202.3L272.8 182.3L278.3 162.2L282.3 142.2L287.3 122.1L293.8 101.1L301.4 80.0" stroke="#ff8000" stroke-width="1" fill="none" shape-rendering="crispEdges"/><path d="M111.7 365.8L128.4 355.8L145.4 340.7L171.4 322.7L197.7 302.6L213.9 282.6L234.8 262.5L247.0 242.5L257.2 222.4L266.4 202.3L273.3 182.3L277.3 162.2L284.2 142.2L292.1 122.1L301.0 101.1L312.3 80.0" stroke="#ff8000" stroke-width="1" fill="none" shape-rendering="crispEdges"/><path d="M114.1 365.8L130.5 355.8L147.3 340.7L172.8 322.7L200.6 302.6L219.8 282.6L239.2 262.5L249.4 242.5L258.4 222.4L266.6 202.3L269.5 182.3L276.5 162.2L283.3 142.2L292.4 122.1L299.4 101.1L312.1 80.0" stroke="#ff8000" stroke-width="1" fill="none" shape-rendering="crispEdges"/><path d="M119.6 365.8L134.9 355.8L153.3 340.7L180.7 322.7L207.3 302.6L222.6 282.6L239.4 262.5L247.2 242.5L257.3 222.4L264.3 202.3L271.4 182.3L277.0 162.2L282.9 142.2L289.3 122.1L295.1 101.1L302.9 80.0" stroke="#ff8000" stroke-width="1" fill="none" shape-rendering="crispEdges"/><path d="M113.4 365.8L129.3 355.8L144.7 340.7L172.8 322.7L201.7 302.6L219.7 282.6L239.1 262.5L248.4 242.5L257.6 222.4L263.9 202.3L272.3 182.3L278.7 162.2L285.8 142.2L297.8 122.1L303.6 101.1L310.9 80.0" stroke="#ff8000" stroke-width="1" fill="none" shape-rendering="crispEdges"/><path d="M116.6 365.8L133.6 355.8L149.7 340.7L175.5 322.7L204.7 302.6L222.6 282.6L239.3 262.5L249.4 242.5L262.4 222.4L270.9 202.3L273.1 182.3L279.0 162.2L284.8 142.2L291.8 122.1L300.1 101.1L308.3 80.0" stroke="#ff8000" stroke-width="1" fill="none" shape-rendering="crispEdges"/><path d="M116.3 365.8L130.2 355.8L148.3 340.7L176.5 322.7L205.0 302.6L224.0 282.6L243.3 262.5L251.9 242.5L261.9 222.4L268.2 202.3L271.7 182.3L277.3 162.2L285.7 142.2L294.5 122.1L303.1 101.1L313.8 80.0" stroke="#ff8000" stroke-width="1" fill="none" shape-rendering="crispEdges"/><path d="M121.9 365.8L139.5 355.8L155.6 340.7L182.4 322.7L209.3 302.6L226.5 282.6L245.2 262.5L253.6 242.5L263.5 222.4L270.3 202.3L274.9 182.3L278.2 162.2L285.8 142.2L291.3 122.1L300.0 101.1L306.2 80.0" stroke="#ff8000" stroke-width="1" fill="none" shape-rendering="crispEdges"/><path d="M123.4 365.8L139.4 355.8L154.3 340.7L182.6 322.7L209.1 302.6L222.7 282.6L239.5 262.5L251.5 242.5L260.7 222.4L266.7 202.3L275.8 182.3L278.0 162.2L282.8 142.2L291.1 122.1L298.6 101.1L306.2 80.0" stroke="#ff8000" stroke-width="1" fill="none" shape-rendering="crispEdges"/><path d="M117.9 365.8L133.6 355.8L152.6 340.7L179.0 322.7L205.0 302.6L224.6 282.6L240.6 262.5L249.8 242.5L259.2 222.4L268.2 202.3L276.2 182.3L284.0 162.2L289.3 142.2L296.6 122.1L306.0 101.1L313.0 80.0" stroke="#ff8000" stroke-width="1" fill="none" shape-rendering="crispEdges"/><path d="M117.9 365.8L131.5 355.8L149.6 340.7L179.3 322.7L208.0 302.6L223.8 282.6L241.6 262.5L251.8 242.5L263.6 222.4L272.3 202.3L277.9 182.3L283.1 162.2L289.7 142.2L296.0 122.1L305.2 101.1L316.4 80.0" stroke="#ff8000" stroke-width="1" fill="none" shape-rendering="crispEdges"/><path d="M125.7 365.8L141.2 355.8L158.8 340.7L188.1 322.7L215.5 302.6L231.2 282.6L243.5 262.5L253.3 242.5L260.9 222.4L267.2 202.3L272.4 182.3L280.8 162.2L285.7 142.2L292.2 122.1L299.9 101.1L306.1 80.0" stroke="#ff8000" stroke-width="1" fill="none" shape-rendering="crispEdges"/><path d="M125.2 365.8L142.7 355.8L157.3 340.7L185.1 322.7L211.4 302.6L229.6 282.6L243.9 262.5L253.0 242.5L262.8 222.4L270.7 202.3L274.8 182.3L279.9 162.2L286.7 142.2L293.2 122.1L300.6 101.1L311.2 80.0" stroke="#ff8000" stroke-width="1" fill="none" shape-rendering="crispEdges"/><path d="M125.0 365.8L144.3 355.8L160.0 340.7L190.6 322.7L217.5 302.6L230.5 282.6L247.5 262.5L258.7 242.5L268.6 222.4L276.3 202.3L283.3 182.3L284.4 162.2L292.6 142.2L298.0 122.1L308.1 101.1L317.3 80.0" stroke="#ff8000" stroke-width="1" fill="none" shape-rendering="crispEdges"/><path d="M120.1 365.8L135.3 355.8L153.8 340.7L183.2 322.7L211.0 302.6L225.4 282.6L242.8 262.5L253.5 242.5L262.1 222.4L269.0 202.3L277.0 182.3L280.4 162.2L286.3 142.2L297.7 122.1L309.7 101.1L318.6 80.0" stroke="#ff8000" stroke-width="1" fill="none" shape-rendering="crispEdges"/><path d="M124.9 365.8L139.1 355.8L157.4 340.7L184.5 322.7L210.7 302.6L228.9 282.6L244.5 262.5L250.9 242.5L262.2 222.4L269.8 202.3L274.2 182.3L278.0 162.2L286.9 142.2L294.9 122.1L303.2 101.1L311.0 80.0" stroke="#ff8000" stroke-width="1" fill="none" shape-rendering="crispEdges"/><path d="M117.1 365.8L131.3 355.8L150.4 340.7L177.5 322.7L205.3 302.6L223.1 282.6L239.8 262.5L251.9 242.5L263.2 222.4L272.2 202.3L278.4 182.3L283.7 162.2L291.6 142.2L303.0 122.1L315.2 101.1L328.2 80.0" stroke="#ff8000" stroke-width="1" fill="none" shape-rendering="crispEdges"/><path d="M125.1 365.8L139.9 355.8L155.3 340.7L184.3 322.7L211.7 302.6L227.8 282.6L242.9 262.5L254.1 242.5L264.4 222.4L273.8 202.3L279.5 182.3L285.4 162.2L290.9 142.2L298.9 122.1L308.8 101.1L318.1 80.0" stroke="#ff8000" stroke-width="1" fill="none" shape-rendering="crispEdges"/><path d="M125.2 365.8L139.1 355.8L156.4 340.7L184.8 322.7L212.2 302.6L229.6 282.6L245.0 262.5L254.8 242.5L263.1 222.4L270.8 202.3L275.1 182.3L280.7 162.2L289.8 142.2L300.5 122.1L310.7 101.1L321.9 80.0" stroke="#ff8000" stroke-width="1" fill="none" shape-rendering="crispEdges"/><path d="M123.2 365.8L138.2 355.8L156.9 340.7L188.3 322.7L214.4 302.6L230.9 282.6L246.2 262.5L255.8 242.5L265.6 222.4L274.6 202.3L278.9 182.3L282.2 162.2L291.3 142.2L298.4 122.1L311.6 101.1L320.9 80.0" stroke="#ff8000" stroke-width="1" fill="none" shape-rendering="crispEdges"/><path d="M124.9 365.8L139.7 355.8L157.9 340.7L187.5 322.7L215.4 302.6L231.4 282.6L243.8 262.5L252.3 242.5L264.7 222.4L273.5 202.3L280.9 182.3L285.5 162.2L293.3 142.2L300.3 122.1L308.8 101.1L318.2 80.0" stroke="#ff8000" stroke-width="1" fill="none" shape-rendering="crispEdges"/><path d="M122.9 365.8L140.6 355.8L156.7 340.7L186.7 322.7L217.2 302.6L233.2 282.6L247.1 262.5L254.2 242.5L265.2 222.4L276.2 202.3L281.4 182.3L288.4 162.2L296.5 142.2L306.6 122.1L318.2 101.1L328.4 80.0" stroke="#ff8000" stroke-width="1" fill="none" shape-rendering="crispEdges"/><path d="M125.0 365.8L140.3 355.8L159.5 340.7L190.9 322.7L217.7 302.6L234.5 282.6L248.1 262.5L256.3 242.5L266.7 222.4L275.4 202.3L281.2 182.3L286.1 162.2L292.0 142.2L301.2 122.1L312.9 101.1L322.9 80.0" stroke="#ff8000" stroke-width="1" fill="none" shape-rendering="crispEdges"/><path d="M116.1 365.8L129.3 355.8L150.0 340.7L180.5 322.7L210.6 302.6L230.8 282.6L245.3 262.5L254.7 242.5L266.5 222.4L276.5 202.3L282.7 182.3L290.3 162.2L298.3 142.2L310.5 122.1L325.1 101.1L338.9 80.0" stroke="#ff8000" stroke-width="1" fill="none" shape-rendering="crispEdges"/><path d="M127.3 365.8L140.8 355.8L160.2 340.7L191.0 322.7L220.2 302.6L234.2 282.6L249.9 262.5L259.0 242.5L269.2 222.4L276.1 202.3L282.2 182.3L287.2 162.2L296.0 142.2L305.8 122.1L317.9 101.1L326.7 80.0" stroke="#ff8000" stroke-width="1" fill="none" shape-rendering="crispEdges"/><path d="M132.7 365.8L151.0 355.8L169.4 340.7L198.9 322.7L227.6 302.6L240.6 282.6L252.4 262.5L260.0 242.5L269.5 222.4L275.5 202.3L283.2 182.3L286.4 162.2L293.3 142.2L304.5 122.1L316.5 101.1L323.6 80.0" stroke="#ff8000" stroke-width="1" fill="none" shape-rendering="crispEdges"/><path d="M125.9 365.8L141.6 355.8L158.7 340.7L190.6 322.7L219.5 302.6L236.0 282.6L251.1 262.5L260.5 242.5L272.0 222.4L278.3 202.3L283.6 182.3L289.6 162.2L297.4 142.2L306.0 122.1L319.2 101.1L329.8 80.0" stroke="#ff8000" stroke-width="1" fill="none" shape-rendering="crispEdges"/><path d="M128.6 365.8L144.1 355.8L160.7 340.7L193.9 322.7L222.0 302.6L238.4 282.6L250.9 262.5L260.1 242.5L268.9 222.4L274.9 202.3L280.7 182.3L286.4 162.2L293.8 142.2L303.5 122.1L315.5 101.1L325.4 80.0" stroke="#ff8000" stroke-width="1" fill="none" shape-rendering="crispEdges"/><path d="M127.9 365.8L143.1 355.8L158.9 340.7L191.8 322.7L219.3 302.6L233.5 282.6L246.1 262.5L256.0 242.5L266.1 222.4L275.5 202.3L283.4 182.3L290.0 162.2L297.9 142.2L309.2 122.1L321.1 101.1L331.6 80.0" stroke="#ff8000" stroke-width="1" fill="none" shape-rendering="crispEdges"/><path d="M131.5 365.8L146.9 355.8L163.7 340.7L195.7 322.7L220.9 302.6L236.6 282.6L250.2 262.5L259.9 242.5L271.0 222.4L280.7 202.3L285.7 182.3L289.4 162.2L296.6 142.2L307.4 122.1L317.4 101.1L329.3 80.0" stroke="#ff8000" stroke-width="1" fill="none" shape-rendering="crispEdges"/><path d="M132.7 365.8L148.5 355.8L167.1 340.7L200.1 322.7L225.4 302.6L239.6 282.6L251.9 262.5L260.5 242.5L269.8 222.4L279.1 202.3L285.1 182.3L290.8 162.2L297.4 142.2L306.0 122.1L315.0 101.1L326.1 80.0" stroke="#ff8000" stroke-width="1" fill="none" shape-rendering="crispEdges"/><path d="M129.3 365.8L145.1 355.8L163.8 340.7L194.6 322.7L221.6 302.6L236.6 282.6L247.6 262.5L255.6 242.5L267.0 222.4L276.7 202.3L283.1 182.3L290.2 162.2L298.9 142.2L309.8 122.1L323.4 101.1L335.8 80.0" stroke="#ff8000" stroke-width="1" fill="none" shape-rendering="crispEdges"/><path d="M138.3 365.8L152.7 355.8L170.6 340.7L204.6 322.7L231.3 302.6L244.1 282.6L253.5 262.5L260.6 242.5L268.6 222.4L276.3 202.3L279.4 182.3L285.2 162.2L293.0 142.2L304.1 122.1L313.1 101.1L323.8 80.0" stroke="#ff8000" stroke-width="1" fill="none" shape-rendering="crispEdges"/><path d="M127.8 365.8L145.3 355.8L164.1 340.7L194.1 322.7L220.9 302.6L236.6 282.6L250.0 262.5L261.4 242.5L271.2 222.4L279.2 202.3L287.0 182.3L290.9 162.2L298.3 142.2L312.9 122.1L327.0 101.1L338.8 80.0" stroke="#ff8000" stroke-width="1" fill="none" shape-rendering="crispEdges"/><path d="M133.3 365.8L147.7 355.8L164.9 340.7L198.7 322.7L227.9 302.6L241.6 282.6L253.2 262.5L262.5 242.5L271.9 222.4L279.8 202.3L286.7 182.3L291.9 162.2L300.8 142.2L310.7 122.1L320.8 101.1L332.1 80.0" stroke="#ff8000" stroke-width="1" fill="none" shape-rendering="crispEdges"/><path d="M137.5 365.8L153.7 355.8L168.7 340.7L200.7 322.7L226.8 302.6L239.7 282.6L248.6 262.5L260.7 242.5L271.1 222.4L280.0 202.3L285.5 182.3L290.0 162.2L295.2 142.2L306.8 122.1L318.5 101.1L328.4 80.0" stroke="#ff8000" stroke-width="1" fill="none" shape-rendering="crispEdges"/><path d="M134.1 365.8L150.7 355.8L169.2 340.7L202.4 322.7L229.7 302.6L245.4 282.6L256.4 262.5L262.9 242.5L272.0 222.4L281.0 202.3L284.9 182.3L289.5 162.2L298.8 142.2L312.5 122.1L323.6 101.1L336.2 80.0" stroke="#ff8000" stroke-width="1" fill="none" shape-rendering="crispEdges"/><path d="M134.7 365.8L149.9 355.8L167.1 340.7L199.4 322.7L227.5 302.6L241.6 282.6L254.2 262.5L262.4 242.5L273.4 222.4L280.4 202.3L286.0 182.3L291.7 162.2L302.2 142.2L313.3 122.1L326.2 101.1L337.9 80.0" stroke="#ff8000" stroke-width="1" fill="none" shape-rendering="crispEdges"/><path d="M132.7 365.8L149.1 355.8L169.2 340.7L200.5 322.7L229.0 302.6L244.1 282.6L251.4 262.5L259.4 242.5L272.0 222.4L280.7 202.3L286.7 182.3L293.7 162.2L303.1 142.2L312.8 122.1L325.9 101.1L338.6 80.0" stroke="#ff8000" stroke-width="1" fill="none" shape-rendering="crispEdges"/><path d="M138.5 365.8L155.9 355.8L171.8 340.7L205.2 322.7L232.0 302.6L242.8 282.6L251.6 262.5L261.1 242.5L271.2 222.4L280.4 202.3L288.2 182.3L292.5 162.2L301.3 142.2L312.9 122.1L324.4 101.1L333.2 80.0" stroke="#ff8000" stroke-width="1" fill="none" shape-rendering="crispEdges"/><path d="M138.0 365.8L151.5 355.8L170.1 340.7L201.7 322.7L230.3 302.6L243.1 282.6L252.8 262.5L260.7 242.5L273.0 222.4L280.5 202.3L286.6 182.3L291.9 162.2L299.5 142.2L310.9 122.1L323.5 101.1L336.3 80.0" stroke="#ff8000" stroke-width="1" fill="none" shape-rendering="crispEdges"/><path d="M135.3 365.8L148.9 355.8L167.7 340.7L202.4 322.7L229.0 302.6L242.9 282.6L252.9 262.5L263.3 242.5L272.6 222.4L282.6 202.3L287.6 182.3L294.6 162.2L303.7 142.2L316.6 122.1L330.2 101.1L342.3 80.0" stroke="#ff8000" stroke-width="1" fill="none" shape-rendering="crispEdges"/><path d="M137.8 365.8L151.6 355.8L168.3 340.7L204.1 322.7L233.5 302.6L244.2 282.6L252.5 262.5L261.9 242.5L269.7 222.4L276.9 202.3L284.2 182.3L291.4 162.2L300.9 142.2L313.5 122.1L327.4 101.1L339.4 80.0" stroke="#ff8000" stroke-width="1" fill="none" shape-rendering="crispEdges"/><path d="M135.9 365.8L151.6 355.8L167.9 340.7L203.1 322.7L232.4 302.6L246.2 282.6L257.1 262.5L265.7 242.5L276.0 222.4L281.9 202.3L287.8 182.3L292.2 162.2L301.4 142.2L315.4 122.1L329.4 101.1L342.2 80.0" stroke="#ff8000" stroke-width="1" fill="none" shape-rendering="crispEdges"/><path d="M139.5 365.8L156.9 355.8L173.5 340.7L207.7 322.7L235.7 302.6L248.9 282.6L253.5 262.5L263.8 242.5L274.6 222.4L282.3 202.3L288.9 182.3L295.6 162.2L302.8 142.2L313.0 122.1L327.2 101.1L337.6 80.0" stroke="#ff8000" stroke-width="1" fill="none" shape-rendering="crispEdges"/><path d="M137.8 365.8L153.0 355.8L169.6 340.7L203.0 322.7L230.5 302.6L244.5 282.6L254.3 262.5L265.4 242.5L274.8 222.4L283.5 202.3L288.5 182.3L291.8 162.2L299.2 142.2L314.7 122.1L330.1 101.1L341.5 80.0" stroke="#ff8000" stroke-width="1" fill="none" shape-rendering="crispEdges"/><path d="M142.5 365.8L159.0 355.8L175.0 340.7L209.5 322.7L239.2 302.6L247.0 282.6L255.2 262.5L263.6 242.5L271.7 222.4L278.6 202.3L286.4 182.3L291.2 162.2L301.4 142.2L310.8 122.1L326.2 101.1L337.0 80.0" stroke="#ff8000" stroke-width="1" fill="none" shape-rendering="crispEdges"/><path d="M137.9 365.8L152.3 355.8L169.6 340.7L203.3 322.7L234.8 302.6L248.5 282.6L257.0 262.5L264.2 242.5L274.8 222.4L282.6 202.3L289.2 182.3L296.7 162.2L306.2 142.2L318.3 122.1L333.4 101.1L346.8 80.0" stroke="#ff8000" stroke-width="1" fill="none" shape-rendering="crispEdges"/><path d="M141.1 365.8L159.3 355.8L177.9 340.7L211.0 322.7L240.4 302.6L251.5 282.6L257.6 262.5L264.5 242.5L275.6 222.4L283.7 202.3L289.6 182.3L295.5 162.2L305.5 142.2L317.7 122.1L331.0 101.1L343.6 80.0" stroke="#ff8000" stroke-width="1" fill="none" shape-rendering="crispEdges"/><path d="M142.0 365.8L157.5 355.8L175.3 340.7L208.9 322.7L239.8 302.6L247.8 282.6L255.3 262.5L264.9 242.5L277.2 222.4L284.1 202.3L291.3 182.3L296.7 162.2L306.0 142.2L314.5 122.1L330.2 101.1L340.7 80.0" stroke="#ff8000" stroke-width="1" fill="none" shape-rendering="crispEdges"/><path d="M106.5 365.8L118.8 355.8L129.7 340.7L160.9 322.7L185.8 302.6L204.9 282.6L219.4 262.5L235.2 242.5L253.3 222.4L270.3 202.3L283.1 182.3L300.6 162.2L317.8 142.2L336.6 122.1L354.4 101.1L371.9 80.0" stroke="#ff8000" stroke-width="1" fill="none" shape-rendering="crispEdges"/><path d="M115.4 365.8L131.2 355.8L147.8 340.7L178.6 322.7L196.8 302.6L212.4 282.6L224.2 262.5L237.0 242.5L252.3 222.4L266.8 202.3L279.9 182.3L290.5 162.2L300.5 142.2L312.0 122.1L328.5 101.1L341.5 80.0" stroke="#ff8000" stroke-width="1" fill="none" shape-rendering="crispEdges"/><path d="M112.6 365.8L125.7 355.8L142.8 340.7L171.4 322.7L197.6 302.6L214.6 282.6L232.2 262.5L246.7 242.5L262.2 222.4L276.2 202.3L289.2 182.3L301.6 162.2L311.7 142.2L326.3 122.1L343.3 101.1L357.9 80.0" stroke="#ff8000" stroke-width="1" fill="none" shape-rendering="crispEdges"/><path d="M117.5 365.8L132.1 355.8L148.3 340.7L177.3 322.7L201.5 302.6L218.7 282.6L231.2 262.5L246.5 242.5L262.3 222.4L274.4 202.3L284.9 182.3L294.9 162.2L301.0 142.2L314.3 122.1L325.5 101.1L339.1 80.0" stroke="#ff8000" stroke-width="1" fill="none" shape-rendering="crispEdges"/><path d="M120.5 365.8L140.9 355.8L156.4 340.7L184.8 322.7L204.4 302.6L219.6 282.6L233.6 262.5L248.4 242.5L261.4 222.4L276.4 202.3L289.1 182.3L294.5 162.2L301.8 142.2L317.7 122.1L325.7 101.1L337.5 80.0" stroke="#ff8000" stroke-width="1" fill="none" shape-rendering="crispEdges"/><path d="M120.2 365.8L140.3 355.8L153.1 340.7L181.4 322.7L203.1 302.6L218.1 282.6L233.8 262.5L247.9 242.5L262.6 222.4L276.8 202.3L286.3 182.3L293.0 162.2L303.1 142.2L318.0 122.1L330.0 101.1L345.4 80.0" stroke="#ff8000" stroke-width="1" fill="none" shape-rendering="crispEdges"/><path d="M112.0 365.8L128.5 355.8L145.7 340.7L174.4 322.7L196.8 302.6L215.0 282.6L230.6 262.5L245.0 242.5L263.5 222.4L281.0 202.3L294.3 182.3L308.9 162.2L322.8 142.2L340.0 122.1L356.2 101.1L376.3 80.0" stroke="#ff8000" stroke-width="1" fill="none" shape-rendering="crispEdges"/><path d="M121.3 365.8L142.7 355.8L159.1 340.7L188.4 322.7L210.7 302.6L226.8 282.6L238.1 262.5L253.0 242.5L270.7 222.4L283.5 202.3L290.6 182.3L300.2 162.2L307.8 142.2L320.7 122.1L329.0 101.1L347.6 80.0" stroke="#ff8000" stroke-width="1" fill="none" shape-rendering="crispEdges"/><path d="M124.2 365.8L142.0 355.8L162.2 340.7L191.7 322.7L213.5 302.6L230.6 282.6L245.4 262.5L256.6 242.5L271.8 222.4L282.1 202.3L290.2 182.3L296.9 162.2L303.2 142.2L312.8 122.1L324.3 101.1L335.8 80.0" stroke="#ff8000" stroke-width="1" fill="none" shape-rendering="crispEdges"/><path d="M119.4 365.8L137.7 355.8L155.8 340.7L183.2 322.7L204.8 302.6L217.9 282.6L235.7 262.5L248.6 242.5L268.0 222.4L284.5 202.3L296.9 182.3L307.0 162.2L318.8 142.2L331.2 122.1L342.4 101.1L356.2 80.0" stroke="#ff8000" stroke-width="1" fill="none" shape-rendering="crispEdges"/><path d="M113.5 365.8L128.0 355.8L142.8 340.7L174.3 322.7L199.6 302.6L219.1 282.6L237.2 262.5L254.1 242.5L274.4 222.4L291.5 202.3L304.3 182.3L317.2 162.2L330.1 142.2L344.6 122.1L361.1 101.1L378.4 80.0" stroke="#ff8000" stroke-width="1" fill="none" shape-rendering="crispEdges"/><path d="M128.2 365.8L147.1 355.8L169.6 340.7L196.1 322.7L218.6 302.6L230.3 282.6L245.1 262.5L255.2 242.5L272.5 222.4L280.6 202.3L291.3 182.3L298.0 162.2L307.2 142.2L316.3 122.1L325.6 101.1L335.2 80.0" stroke="#ff8000" stroke-width="1" fill="none" shape-rendering="crispEdges"/><path d="M108.6 365.8L123.3 355.8L136.9 340.7L169.6 322.7L196.3 302.6L215.3 282.6L231.1 262.5L252.1 242.5L276.1 222.4L291.8 202.3L309.3 182.3L328.1 162.2L347.0 142.2L364.1 122.1L383.5 101.1L403.9 80.0" stroke="#ff8000" stroke-width="1" fill="none" shape-rendering="crispEdges"/><path d="M124.9 365.8L147.3 355.8L163.4 340.7L192.5 322.7L213.5 302.6L227.6 282.6L242.5 262.5L256.6 242.5L273.1 222.4L287.5 202.3L300.7 182.3L310.4 162.2L319.6 142.2L329.0 122.1L341.7 101.1L353.7 80.0" stroke="#ff8000" stroke-width="1" fill="none" shape-rendering="crispEdges"/><path d="M129.9 365.8L150.3 355.8L169.8 340.7L198.0 322.7L217.7 302.6L233.6 282.6L251.1 262.5L265.6 242.5L278.3 222.4L288.0 202.3L294.8 182.3L301.9 162.2L308.5 142.2L322.5 122.1L332.7 101.1L346.0 80.0" stroke="#ff8000" stroke-width="1" fill="none" shape-rendering="crispEdges"/><path d="M127.0 365.8L146.8 355.8L165.8 340.7L195.7 322.7L218.8 302.6L232.9 282.6L250.4 262.5L266.8 242.5L282.6 222.4L291.9 202.3L299.9 182.3L314.2 162.2L319.4 142.2L333.6 122.1L346.2 101.1L360.5 80.0" stroke="#ff8000" stroke-width="1" fill="none" shape-rendering="crispEdges"/><path d="M138.9 365.8L160.0 355.8L182.8 340.7L213.6 322.7L231.9 302.6L246.6 282.6L261.3 262.5L274.0 242.5L283.1 222.4L291.8 202.3L294.1 182.3L294.0 162.2L293.5 142.2L297.7 122.1L303.1 101.1L313.4 80.0" stroke="#ff8000" stroke-width="1" fill="none" shape-rendering="crispEdges"/><path d="M139.6 365.8L163.3 355.8L184.2 340.7L211.6 322.7L229.6 302.6L243.4 282.6L258.3 262.5L274.6 242.5L285.0 222.4L291.7 202.3L291.7 182.3L293.7 162.2L292.4 142.2L301.3 122.1L308.3 101.1L315.6 80.0" stroke="#ff8000" stroke-width="1" fill="none" shape-rendering="crispEdges"/><path d="M126.1 365.8L145.1 355.8L163.0 340.7L194.7 322.7L216.6 302.6L233.5 282.6L253.2 262.5L270.6 242.5L288.2 222.4L302.5 202.3L315.5 182.3L326.9 162.2L332.1 142.2L341.7 122.1L354.5 101.1L367.3 80.0" stroke="#ff8000" stroke-width="1" fill="none" shape-rendering="crispEdges"/><path d="M125.8 365.8L144.9 355.8L163.6 340.7L196.2 322.7L218.0 302.6L232.4 282.6L249.6 262.5L265.8 242.5L281.5 222.4L295.9 202.3L310.9 182.3L323.5 162.2L333.8 142.2L346.8 122.1L359.3 101.1L372.1 80.0" stroke="#ff8000" stroke-width="1" fill="none" shape-rendering="crispEdges"/><path d="M129.6 365.8L153.5 355.8L172.9 340.7L203.0 322.7L223.4 302.6L239.1 282.6L254.2 262.5L270.9 242.5L288.3 222.4L300.6 202.3L310.4 182.3L318.2 162.2L327.3 142.2L333.7 122.1L344.9 101.1L354.7 80.0" stroke="#ff8000" stroke-width="1" fill="none" shape-rendering="crispEdges"/><path d="M120.9 365.8L139.6 355.8L153.6 340.7L188.8 322.7L212.7 302.6L229.7 282.6L251.9 262.5L268.5 242.5L287.4 222.4L304.7 202.3L323.0 182.3L338.4 162.2L352.9 142.2L368.9 122.1L380.8 101.1L398.7 80.0" stroke="#ff8000" stroke-width="1" fill="none" shape-rendering="crispEdges"/><path d="M121.8 365.8L140.7 355.8L159.0 340.7L192.1 322.7L215.2 302.6L229.2 282.6L251.8 262.5L274.0 242.5L293.7 222.4L306.2 202.3L323.3 182.3L339.1 162.2L351.3 142.2L365.9 122.1L383.1 101.1L398.1 80.0" stroke="#ff8000" stroke-width="1" fill="none" shape-rendering="crispEdges"/><path d="M132.2 365.8L155.5 355.8L177.9 340.7L207.5 322.7L229.7 302.6L244.1 282.6L261.5 262.5L277.3 242.5L293.1 222.4L305.3 202.3L317.5 182.3L328.0 162.2L333.1 142.2L344.0 122.1L352.2 101.1L362.9 80.0" stroke="#ff8000" stroke-width="1" fill="none" shape-rendering="crispEdges"/><path d="M129.7 365.8L152.8 355.8L174.5 340.7L208.3 322.7L230.4 302.6L247.7 282.6L264.5 262.5L282.9 242.5L297.5 222.4L310.8 202.3L321.2 182.3L336.3 162.2L344.2 142.2L354.2 122.1L365.2 101.1L375.7 80.0" stroke="#ff8000" stroke-width="1" fill="none" shape-rendering="crispEdges"/><path d="M142.7 365.8L164.3 355.8L189.0 340.7L218.9 322.7L237.2 302.6L251.3 282.6L269.9 262.5L284.4 242.5L297.6 222.4L304.0 202.3L310.1 182.3L312.1 162.2L310.3 142.2L314.5 122.1L321.9 101.1L328.4 80.0" stroke="#ff8000" stroke-width="1" fill="none" shape-rendering="crispEdges"/><path d="M121.1 365.8L138.6 355.8L156.3 340.7L190.0 322.7L213.4 302.6L230.5 282.6L249.3 262.5L273.3 242.5L290.7 222.4L307.9 202.3L324.0 182.3L340.2 162.2L353.5 142.2L371.4 122.1L387.5 101.1L399.8 80.0" stroke="#ff8000" stroke-width="1" fill="none" shape-rendering="crispEdges"/><path d="M140.6 365.8L164.2 355.8L187.1 340.7L214.8 322.7L233.9 302.6L249.0 282.6L266.0 262.5L283.8 242.5L299.2 222.4L305.2 202.3L311.1 182.3L314.5 162.2L314.4 142.2L318.3 122.1L328.6 101.1L337.8 80.0" stroke="#ff8000" stroke-width="1" fill="none" shape-rendering="crispEdges"/><path d="M119.6 365.8L138.8 355.8L160.5 340.7L191.7 322.7L212.7 302.6L233.6 282.6L256.6 262.5L275.2 242.5L298.5 222.4L318.8 202.3L340.5 182.3L361.1 162.2L378.8 142.2L393.7 122.1L409.9 101.1L418.7 80.0" stroke="#ff8000" stroke-width="1" fill="none" shape-rendering="crispEdges"/><path d="M123.8 365.8L146.2 355.8L162.7 340.7L195.6 322.7L223.0 302.6L240.7 282.6L258.8 262.5L283.0 242.5L302.8 222.4L321.2 202.3L337.5 182.3L355.3 162.2L368.4 142.2L383.3 122.1L394.5 101.1L407.2 80.0" stroke="#ff8000" stroke-width="1" fill="none" shape-rendering="crispEdges"/><path d="M129.1 365.8L148.7 355.8L169.5 340.7L200.3 322.7L221.6 302.6L239.7 282.6L262.8 262.5L283.0 242.5L303.5 222.4L319.2 202.3L337.4 182.3L351.0 162.2L361.6 142.2L376.2 122.1L385.9 101.1L395.2 80.0" stroke="#ff8000" stroke-width="1" fill="none" shape-rendering="crispEdges"/><path d="M136.8 365.8L158.6 355.8L184.5 340.7L215.1 322.7L235.2 302.6L252.5 282.6L269.1 262.5L289.0 242.5L306.1 222.4L316.8 202.3L326.9 182.3L336.6 162.2L340.0 142.2L346.4 122.1L355.7 101.1L365.1 80.0" stroke="#ff8000" stroke-width="1" fill="none" shape-rendering="crispEdges"/><path d="M135.4 365.8L155.8 355.8L179.4 340.7L212.1 322.7L234.9 302.6L251.9 282.6L273.0 262.5L288.9 242.5L308.1 222.4L320.8 202.3L332.1 182.3L344.3 162.2L352.4 142.2L357.8 122.1L368.2 101.1L380.1 80.0" stroke="#ff8000" stroke-width="1" fill="none" shape-rendering="crispEdges"/><path d="M129.7 365.8L152.0 355.8L173.6 340.7L203.3 322.7L226.3 302.6L246.3 282.6L266.2 262.5L289.3 242.5L309.0 222.4L324.9 202.3L340.1 182.3L355.1 162.2L362.1 142.2L373.8 122.1L385.8 101.1L396.2 80.0" stroke="#ff8000" stroke-width="1" fill="none" shape-rendering="crispEdges"/><path d="M141.4 365.8L162.9 355.8L191.8 340.7L223.2 322.7L244.1 302.6L260.0 282.6L279.5 262.5L293.9 242.5L309.9 222.4L318.7 202.3L328.3 182.3L336.0 162.2L338.5 142.2L343.7 122.1L349.6 101.1L354.8 80.0" stroke="#ff8000" stroke-width="1" fill="none" shape-rendering="crispEdges"/><path d="M130.8 365.8L152.5 355.8L174.2 340.7L204.5 322.7L230.1 302.6L252.7 282.6L273.5 262.5L297.3 242.5L316.9 222.4L331.9 202.3L347.1 182.3L364.7 162.2L372.9 142.2L385.5 122.1L397.0 101.1L406.0 80.0" stroke="#ff8000" stroke-width="1" fill="none" shape-rendering="crispEdges"/><path d="M142.4 365.8L167.9 355.8L193.1 340.7L224.6 322.7L244.4 302.6L258.4 282.6L276.8 262.5L294.9 242.5L309.4 222.4L321.9 202.3L335.3 182.3L345.2 162.2L350.4 142.2L357.2 122.1L363.8 101.1L369.8 80.0" stroke="#ff8000" stroke-width="1" fill="none" shape-rendering="crispEdges"/><path d="M142.9 365.8L164.9 355.8L193.2 340.7L226.1 322.7L247.5 302.6L266.6 282.6L286.1 262.5L301.6 242.5L314.7 222.4L323.8 202.3L329.2 182.3L332.0 162.2L330.9 142.2L334.7 122.1L338.1 101.1L344.3 80.0" stroke="#ff8000" stroke-width="1" fill="none" shape-rendering="crispEdges"/><path d="M137.8 365.8L161.5 355.8L184.5 340.7L216.1 322.7L239.1 302.6L253.6 282.6L275.2 262.5L296.5 242.5L312.6 222.4L326.4 202.3L340.1 182.3L350.3 162.2L358.5 142.2L369.0 122.1L380.3 101.1L390.5 80.0" stroke="#ff8000" stroke-width="1" fill="none" shape-rendering="crispEdges"/><path d="M135.9 365.8L158.4 355.8L180.9 340.7L211.4 322.7L233.0 302.6L252.2 282.6L273.0 262.5L292.9 242.5L312.9 222.4L332.4 202.3L345.0 182.3L361.2 162.2L371.7 142.2L383.5 122.1L389.7 101.1L402.9 80.0" stroke="#ff8000" stroke-width="1" fill="none" shape-rendering="crispEdges"/><path d="M135.2 365.8L159.3 355.8L182.7 340.7L214.1 322.7L234.5 302.6L253.6 282.6L276.2 262.5L297.2 242.5L317.7 222.4L331.6 202.3L346.2 182.3L362.7 162.2L372.9 142.2L383.2 122.1L397.1 101.1L408.1 80.0" stroke="#ff8000" stroke-width="1" fill="none" shape-rendering="crispEdges"/><path d="M143.7 365.8L166.2 355.8L195.6 340.7L229.2 322.7L252.9 302.6L270.3 282.6L291.8 262.5L308.2 242.5L324.4 222.4L334.7 202.3L343.8 182.3L350.3 162.2L352.2 142.2L360.2 122.1L363.0 101.1L367.5 80.0" stroke="#ff8000" stroke-width="1" fill="none" shape-rendering="crispEdges"/><path d="M139.1 365.8L163.8 355.8L190.3 340.7L223.1 322.7L244.6 302.6L260.4 282.6L282.0 262.5L302.2 242.5L322.5 222.4L335.1 202.3L351.6 182.3L363.9 162.2L370.6 142.2L378.7 122.1L387.5 101.1L397.5 80.0" stroke="#ff8000" stroke-width="1" fill="none" shape-rendering="crispEdges"/><path d="M141.2 365.8L166.9 355.8L192.7 340.7L225.8 322.7L246.2 302.6L262.7 282.6L284.9 262.5L308.9 242.5L324.1 222.4L334.7 202.3L346.7 182.3L354.7 162.2L362.4 142.2L365.8 122.1L370.1 101.1L379.7 80.0" stroke="#ff8000" stroke-width="1" fill="none" shape-rendering="crispEdges"/><path d="M143.6 365.8L168.4 355.8L196.3 340.7L228.9 322.7L250.5 302.6L267.0 282.6L290.2 262.5L310.5 242.5L327.1 222.4L337.2 202.3L348.9 182.3L360.9 162.2L365.9 142.2L372.3 122.1L379.0 101.1L387.3 80.0" stroke="#ff8000" stroke-width="1" fill="none" shape-rendering="crispEdges"/><path d="M142.8 365.8L167.2 355.8L194.3 340.7L227.1 322.7L251.1 302.6L268.4 282.6L291.6 262.5L313.5 242.5L331.1 222.4L342.8 202.3L355.5 182.3L367.9 162.2L372.1 142.2L382.0 122.1L387.8 101.1L394.2 80.0" stroke="#ff8000" stroke-width="1" fill="none" shape-rendering="crispEdges"/><path d="M144.0 365.8L170.9 355.8L196.6 340.7L227.6 322.7L245.4 302.6L265.4 282.6L288.6 262.5L310.2 242.5L328.4 222.4L343.8 202.3L352.3 182.3L366.0 162.2L371.7 142.2L377.2 122.1L383.4 101.1L395.1 80.0" stroke="#ff8000" stroke-width="1" fill="none" shape-rendering="crispEdges"/><path d="M137.7 365.8L162.8 355.8L188.1 340.7L218.0 322.7L241.0 302.6L260.1 282.6L284.8 262.5L310.1 242.5L331.9 222.4L350.7 202.3L370.9 182.3L385.5 162.2L395.0 142.2L402.8 122.1L409.2 101.1L414.4 80.0" stroke="#ff8000" stroke-width="1" fill="none" shape-rendering="crispEdges"/><path d="M130.6 365.8L152.1 355.8L175.9 340.7L209.9 322.7L233.0 302.6L254.8 282.6L279.7 262.5L307.8 242.5L333.2 222.4L352.4 202.3L368.9 182.3L385.2 162.2L394.9 142.2L404.6 122.1L413.6 101.1L421.9 80.0" stroke="#ff8000" stroke-width="1" fill="none" shape-rendering="crispEdges"/><path d="M140.1 365.8L166.0 355.8L193.0 340.7L227.7 322.7L249.8 302.6L268.6 282.6L291.3 262.5L313.0 242.5L333.0 222.4L348.6 202.3L365.1 182.3L381.6 162.2L390.6 142.2L398.3 122.1L407.5 101.1L414.4 80.0" stroke="#ff8000" stroke-width="1" fill="none" shape-rendering="crispEdges"/><path d="M94.0 365.8L98.4 355.8L106.5 340.7L113.4 322.7L123.1 302.6L135.6 282.6L152.8 262.5L163.9 242.5L248.2 222.4L258.9 202.3L264.8 182.3L279.5 162.2L285.8 142.2L300.1 122.1L311.1 101.1L327.1 80.0" stroke="#ff8000" stroke-width="1" fill="none" shape-rendering="crispEdges"/><path d="M96.4 365.8L102.2 355.8L109.7 340.7L118.6 322.7L130.7 302.6L144.5 282.6L157.9 262.5L166.5 242.5L248.4 222.4L257.4 202.3L264.6 182.3L277.8 162.2L286.6 142.2L299.9 122.1L312.9 101.1L327.7 80.0" stroke="#ff8000" stroke-width="1" fill="none" shape-rendering="crispEdges"/><path d="M95.3 365.8L106.4 355.8L111.7 340.7L121.6 322.7L135.2 302.6L148.3 282.6L161.8 262.5L174.9 242.5L255.6 222.4L267.7 202.3L278.3 182.3L294.4 162.2L302.8 142.2L312.9 122.1L327.0 101.1L342.5 80.0" stroke="#ff8000" stroke-width="1" fill="none" shape-rendering="crispEdges"/><path d="M131.6 365.8L140.8 355.8L154.6 340.7L168.8 322.7L177.2 302.6L183.4 282.6L189.4 262.5L187.5 242.5L254.3 222.4L264.3 202.3L263.5 182.3L267.7 162.2L270.1 142.2L277.6 122.1L284.2 101.1L291.6 80.0" stroke="#ff8000" stroke-width="1" fill="none" shape-rendering="crispEdges"/><path d="M104.3 365.8L112.1 355.8L121.9 340.7L133.8 322.7L148.6 302.6L161.2 282.6L173.9 262.5L185.3 242.5L262.8 222.4L275.3 202.3L285.5 182.3L300.3 162.2L309.3 142.2L319.4 122.1L328.8 101.1L339.9 80.0" stroke="#ff8000" stroke-width="1" fill="none" shape-rendering="crispEdges"/><path d="M87.7 365.8L90.8 355.8L102.6 340.7L111.4 322.7L131.9 302.6L151.0 282.6L172.0 262.5L189.5 242.5L267.1 222.4L280.1 202.3L292.5 182.3L312.5 162.2L324.3 142.2L340.2 122.1L354.3 101.1L370.9 80.0" stroke="#ff8000" stroke-width="1" fill="none" shape-rendering="crispEdges"/><path d="M122.9 365.8L135.0 355.8L147.0 340.7L160.4 322.7L175.9 302.6L186.5 282.6L196.0 262.5L201.9 242.5L273.3 222.4L281.5 202.3L289.9 182.3L303.6 162.2L309.4 142.2L314.8 122.1L325.0 101.1L334.9 80.0" stroke="#ff8000" stroke-width="1" fill="none" shape-rendering="crispEdges"/><path d="M113.2 365.8L126.6 355.8L138.2 340.7L154.5 322.7L171.0 302.6L183.6 282.6L196.1 262.5L205.3 242.5L273.6 222.4L284.0 202.3L296.7 182.3L313.7 162.2L320.9 142.2L331.6 122.1L346.0 101.1L356.4 80.0" stroke="#ff8000" stroke-width="1" fill="none" shape-rendering="crispEdges"/><path d="M113.7 365.8L125.5 355.8L137.3 340.7L154.4 322.7L172.8 302.6L184.8 282.6L199.5 262.5L208.1 242.5L277.4 222.4L288.7 202.3L298.9 182.3L313.8 162.2L326.3 142.2L337.9 122.1L347.0 101.1L358.8 80.0" stroke="#ff8000" stroke-width="1" fill="none" shape-rendering="crispEdges"/><path d="M97.3 365.8L103.8 355.8L116.9 340.7L133.1 322.7L156.6 302.6L176.3 282.6L196.6 262.5L213.2 242.5L285.8 222.4L300.3 202.3L317.1 182.3L339.0 162.2L348.6 142.2L361.4 122.1L373.2 101.1L387.8 80.0" stroke="#ff8000" stroke-width="1" fill="none" shape-rendering="crispEdges"/><path d="M128.7 365.8L143.6 355.8L161.2 340.7L181.8 322.7L198.1 302.6L206.0 282.6L214.4 262.5L218.5 242.5L281.4 222.4L292.0 202.3L302.5 182.3L317.9 162.2L323.9 142.2L331.7 122.1L340.9 101.1L349.7 80.0" stroke="#ff8000" stroke-width="1" fill="none" shape-rendering="crispEdges"/><path d="M135.6 365.8L156.1 355.8L173.8 340.7L195.5 322.7L210.4 302.6L219.0 282.6L226.6 262.5L231.0 242.5L290.2 222.4L302.3 202.3L314.1 182.3L328.7 162.2L333.3 142.2L340.5 122.1L347.3 101.1L354.3 80.0" stroke="#ff8000" stroke-width="1" fill="none" shape-rendering="crispEdges"/><path d="M140.4 365.8L157.7 355.8L181.8 340.7L211.9 322.7L229.5 302.6L234.6 282.6L239.7 262.5L242.1 242.5L292.5 222.4L299.4 202.3L309.8 182.3L321.9 162.2L322.2 142.2L327.7 122.1L334.1 101.1L335.1 80.0" stroke="#ff8000" stroke-width="1" fill="none" shape-rendering="crispEdges"/><path d="M101.6 365.8L112.7 355.8L126.9 340.7L147.8 322.7L171.2 302.6L192.6 282.6L213.8 262.5L231.6 242.5L297.5 222.4L314.2 202.3L334.0 182.3L358.7 162.2L371.5 142.2L380.1 122.1L387.8 101.1L397.7 80.0" stroke="#ff8000" stroke-width="1" fill="none" shape-rendering="crispEdges"/><path d="M139.4 365.8L157.5 355.8L179.5 340.7L206.5 322.7L223.4 302.6L236.7 282.6L245.1 262.5L251.8 242.5L304.3 222.4L318.3 202.3L329.2 182.3L344.7 162.2L349.5 142.2L358.2 122.1L363.6 101.1L368.8 80.0" stroke="#ff8000" stroke-width="1" fill="none" shape-rendering="crispEdges"/><path d="M136.0 365.8L155.4 355.8L176.0 340.7L202.4 322.7L222.4 302.6L234.2 282.6L243.6 262.5L250.9 242.5L304.3 222.4L317.0 202.3L333.7 182.3L353.1 162.2L361.7 142.2L370.5 122.1L379.2 101.1L385.8 80.0" stroke="#ff8000" stroke-width="1" fill="none" shape-rendering="crispEdges"/><path d="M129.0 365.8L142.5 355.8L162.3 340.7L191.1 322.7L213.6 302.6L229.6 282.6L244.1 262.5L257.6 242.5L307.5 222.4L324.6 202.3L340.9 182.3L364.1 162.2L371.5 142.2L382.6 122.1L391.5 101.1L403.3 80.0" stroke="#ff8000" stroke-width="1" fill="none" shape-rendering="crispEdges"/><path d="M140.0 365.8L159.0 355.8L181.3 340.7L210.6 322.7L231.6 302.6L242.6 282.6L252.8 262.5L262.5 242.5L310.8 222.4L324.0 202.3L342.0 182.3L363.5 162.2L371.5 142.2L382.1 122.1L390.7 101.1L397.2 80.0" stroke="#ff8000" stroke-width="1" fill="none" shape-rendering="crispEdges"/><path d="M229.0 80.0L219.8 101.1L209.3 122.1L204.5 142.2L195.5 162.2L183.5 182.3L171.5 202.3L156.5 222.4L143.5 242.5L128.5 262.5L113.5 282.6L102.3 302.6L95.0 322.7L89.0 340.7L86.0 355.8L96.0 365.8" stroke="#ff8000" stroke-width="1" fill="none" shape-rendering="crispEdges"/><path d="M232.0 80.0L221.6 101.1L210.4 122.1L203.8 142.2L194.8 162.2L182.8 182.3L170.8 202.3L155.8 222.4L142.8 242.5L127.8 262.5L112.8 282.6L103.4 302.6L98.0 322.7L92.0 340.7L89.0 355.8L96.0 365.8" stroke="#ff8000" stroke-width="1" fill="none" shape-rendering="crispEdges"/><path d="M235.0 80.0L225.0 101.1L214.0 122.1L208.1 142.2L199.1 162.2L187.1 182.3L175.1 202.3L160.1 222.4L147.1 242.5L132.1 262.5L117.1 282.6L107.0 302.6L101.0 322.7L95.0 340.7L92.0 355.8L96.0 365.8" stroke="#ff8000" stroke-width="1" fill="none" shape-rendering="crispEdges"/><path d="M238.0 80.0L227.4 101.1L216.0 122.1L209.1 142.2L200.1 162.2L188.1 182.3L176.1 202.3L161.1 222.4L148.1 242.5L133.1 262.5L118.1 282.6L109.0 302.6L104.0 322.7L98.0 340.7L95.0 355.8L96.0 365.8" stroke="#ff8000" stroke-width="1" fill="none" shape-rendering="crispEdges"/><path d="M241.0 80.0L231.7 101.1L221.2 122.1L216.4 142.2L207.4 162.2L195.4 182.3L183.4 202.3L168.4 222.4L155.4 242.5L140.4 262.5L125.4 282.6L114.2 302.6L107.0 322.7L101.0 340.7L98.0 355.8L96.0 365.8" stroke="#ff8000" stroke-width="1" fill="none" shape-rendering="crispEdges"/><path d="M244.0 80.0L233.7 101.1L222.5 122.1L216.1 142.2L207.1 162.2L195.1 182.3L183.1 202.3L168.1 222.4L155.1 242.5L140.1 262.5L125.1 282.6L115.5 302.6L110.0 322.7L104.0 340.7L101.0 355.8L99.0 365.8" stroke="#ff8000" stroke-width="1" fill="none" shape-rendering="crispEdges"/><path d="M247.0 80.0L236.6 101.1L225.4 122.1L218.8 142.2L209.8 162.2L197.8 182.3L185.8 202.3L170.8 222.4L157.8 242.5L142.8 262.5L127.8 282.6L118.4 302.6L113.0 322.7L107.0 340.7L104.0 355.8L102.0 365.8" stroke="#ff8000" stroke-width="1" fill="none" shape-rendering="crispEdges"/><path d="M219.5 81.0L215.0 92.0L211.0 104.0L208.0 115.0L206.0 125.0L205.0 135.0L206.0 138.0L212.0 134.0L218.0 129.0L222.0 120.0L223.9 108.0L225.0 95.0L227.0 81.0Z" fill="#fff" shape-rendering="crispEdges"/><path d="M205.0 139.7L212.0 134.7L218.5 130.1L222.3 121.1L223.0 108.1L224.5 93.0L227.3 80.0" stroke="#ff8000" stroke-width="1" fill="none" shape-rendering="crispEdges"/><path d="M464.5 80.0L451.0 98.6L435.0 119.1L421.4 137.2L412.3 148.7L405.5 157.7L396.4 169.2L386.4 181.7L377.3 204.3L368.2 220.4L356.8 234.0L345.5 243.2L334.0 252.3L322.7 266.0L315.0 290.6L305.0 300.6L290.8 310.6L271.2 320.7L248.8 330.7L218.8 340.7L189.5 350.8L166.1 358.8L143.0 365.8" stroke="#ff8000" stroke-width="1" fill="none" shape-rendering="crispEdges"/><path d="M460.5 80.0L447.0 98.6L431.0 119.1L417.5 137.2L408.5 148.7L402.0 157.7L394.0 169.2L385.0 181.7L376.0 204.3L366.0 222.4L354.0 236.4L343.0 245.5L332.0 254.5L318.0 268.5L308.0 290.6L298.1 300.6L284.2 310.6L265.3 320.7L243.2 330.7L214.2 340.7L185.9 350.8L163.4 358.8L141.4 365.8" stroke="#ff8000" stroke-width="1" fill="none" shape-rendering="crispEdges"/><path d="M441.8 80.0L428.0 100.8L419.0 112.1L412.3 130.1L405.5 146.2L396.4 164.6L390.0 178.3L382.0 195.3L370.0 215.4L352.0 240.4L335.0 262.5L301.1 290.6L291.2 300.6L277.6 310.6L259.4 320.7L237.6 330.7L209.7 340.7L182.3 350.8L160.6 358.8L139.8 365.8" stroke="#ff8000" stroke-width="1" fill="none" shape-rendering="crispEdges"/><path d="M435.0 80.0L416.8 112.1L405.5 135.0L394.0 157.7L382.7 178.3L365.0 200.3L350.0 225.4L338.0 250.5L320.0 275.5L294.1 290.6L284.4 300.6L270.9 310.6L253.5 320.7L232.0 330.7L205.1 340.7L178.7 350.8L157.8 358.8L138.1 365.8" stroke="#ff8000" stroke-width="1" fill="none" shape-rendering="crispEdges"/><path d="M430.8 80.0L418.0 105.1L405.0 128.1L393.0 150.2L380.0 172.3L362.0 198.3L348.0 220.4L335.0 245.5L318.0 270.5L287.1 290.6L277.5 300.6L264.3 310.6L247.6 320.7L226.4 330.7L200.6 340.7L175.1 350.8L155.1 358.8L136.5 365.8" stroke="#ff8000" stroke-width="1" fill="none" shape-rendering="crispEdges"/><path d="M426.7 80.0L412.0 106.1L398.0 130.1L385.0 155.2L370.0 180.3L352.0 202.3L336.0 228.4L322.0 255.5L305.0 280.6L280.1 290.6L270.6 300.6L257.7 310.6L241.7 320.7L220.8 330.7L196.0 340.7L171.5 350.8L152.3 358.8L134.9 365.8" stroke="#ff8000" stroke-width="1" fill="none" shape-rendering="crispEdges"/><path d="M422.6 80.0L408.0 104.1L393.0 128.1L378.0 152.2L362.0 178.3L347.0 202.3L330.0 230.4L315.0 258.5L273.2 290.6L263.8 300.6L251.0 310.6L235.8 320.7L215.2 330.7L191.5 340.7L167.9 350.8L149.5 358.8L133.2 365.8" stroke="#ff8000" stroke-width="1" fill="none" shape-rendering="crispEdges"/><path d="M418.5 80.0L402.0 106.1L388.0 130.1L372.0 156.2L356.0 182.3L340.0 206.4L325.0 234.4L310.0 262.5L266.2 290.6L256.9 300.6L244.4 310.6L229.9 320.7L209.6 330.7L186.9 340.7L164.4 350.8L146.8 358.8L131.6 365.8" stroke="#ff8000" stroke-width="1" fill="none" shape-rendering="crispEdges"/><path d="M78.5 365.8L84.0 345.7L89.0 322.7L95.5 310.2L101.0 290.6L106.0 265.5L109.0 240.4L113.0 205.4L118.0 192.3L122.5 185.3L125.5 175.3L125.5 139.7L132.5 127.6L137.5 80.0" stroke="#ff8000" stroke-width="1" fill="none" shape-rendering="crispEdges"/><path d="M197.0 365.8L231.0 360.8L272.0 354.6L305.0 348.4L330.0 340.0L360.0 332.7L397.6 321.4L450.0 305.6L500.0 292.6L540.0 282.3L560.7 275.8L576.6 268.7L592.5 260.7L600.4 248.0L602.8 238.4L604.5 200.3L605.0 180.3L605.0 80.0" stroke="#ff8000" stroke-width="1" fill="none" shape-rendering="crispEdges"/><path d="M198.0 365.8L231.0 361.3L272.0 354.8L305.0 348.8L330.0 340.2L360.0 333.7L397.6 324.7L450.0 311.6L500.0 299.6L540.0 291.0L559.0 283.1L576.6 274.2L594.0 261.5L601.2 248.0L603.0 230.4L604.0 190.3" stroke="#ff8000" stroke-width="1" fill="none" shape-rendering="crispEdges"/><path d="M199.0 365.8L232.0 361.8L273.0 355.3L305.0 349.3L330.0 340.7L360.0 335.2L397.6 328.2L450.0 317.7L500.0 306.6L540.0 296.6L555.9 291.8L571.8 284.6L587.7 275.8L599.6 260.7L602.0 248.0L603.5 220.4L604.0 195.3" stroke="#ff8000" stroke-width="1" fill="none" shape-rendering="crispEdges"/><path d="M200.0 365.8L233.0 361.8L274.0 355.8L306.0 349.8L330.0 341.2L360.0 336.2L397.6 330.7L450.0 320.7L500.0 308.6L540.0 299.6L555.9 295.8L573.4 291.0L586.1 283.1L598.8 275.8L601.2 267.1L602.8 260.7L603.6 246.5L604.0 220.4L604.5 188.3" stroke="#ff8000" stroke-width="1" fill="none" shape-rendering="crispEdges"/><path d="M98.0 365.8L106.0 361.1L114.6 356.8L120.0 353.7L128.5 347.0L133.0 343.7L137.2 340.7L141.0 335.7L145.0 329.7L149.0 323.0L153.2 316.2L155.9 306.5L158.0 295.6L159.1 291.1L162.5 289.0L165.9 286.3L168.6 278.8L172.7 269.1L176.8 261.0L179.6 255.5L181.8 248.2L185.2 234.4L187.5 227.4L192.0 217.4L199.5 207.4L212.7 190.6L224.5 172.8L236.4 155.0L240.0 146.6L249.5 135.4L260.7 117.8L267.8 105.1L274.2 90.7L278.0 80.0" stroke="#000" stroke-width="2" fill="none" shape-rendering="crispEdges"/><path d="M98.0 365.8L106.0 361.1L114.6 356.8L120.0 353.7L128.5 349.6L133.0 349.2L136.5 345.2L139.5 342.1L145.0 335.3L150.5 328.4L154.6 321.6L157.3 313.4L160.0 305.1L162.7 295.6L164.6 289.7L167.3 284.2L172.7 281.6L178.2 277.4L185.0 269.1L191.8 262.3L197.3 255.5L202.0 250.5L206.8 246.0L211.4 234.4L216.0 223.1L220.5 211.8L223.0 206.4L233.4 178.7L242.3 160.9L252.0 148.2L259.0 138.6L267.0 124.1L271.8 109.9L275.8 94.0L278.0 80.0" stroke="#000" stroke-width="2" fill="none" shape-rendering="crispEdges"/><path d="M98.0 365.8L106.0 361.1L114.6 356.8L120.0 353.7L128.5 349.6L133.0 349.2L143.6 342.1L157.3 332.5L168.2 324.3L177.7 317.5L187.3 309.2L196.8 301.1L203.2 294.3L210.0 286.1L216.8 276.6L222.3 268.2L227.0 260.0L229.0 250.5L231.8 246.0L235.2 229.9L236.4 214.0L237.8 208.4L240.8 190.6L246.7 172.8L261.5 148.2L264.6 138.6L268.6 125.8L272.6 109.9L276.6 90.7L278.0 80.0" stroke="#000" stroke-width="2" fill="none" shape-rendering="crispEdges"/><path d="M112.4 365.8L124.4 356.8L136.8 351.8L150.5 342.1L164.1 332.5L177.7 321.6L190.0 314.8L201.8 309.3L216.8 297.0L227.7 287.4L237.5 280.6L239.1 274.2L242.3 263.0L244.7 253.5L248.7 245.5L251.8 235.9L256.6 221.4L258.2 208.1L260.2 197.1L263.6 184.9L267.7 168.4L269.1 160.2L274.2 148.2L278.2 125.8L281.3 109.9L283.0 98.8L286.0 89.0L290.0 80.0" stroke="#000" stroke-width="2" fill="none" shape-rendering="crispEdges"/><path d="M105.9 365.8L116.8 360.1L127.7 354.6L136.4 350.2L143.6 344.7L157.3 334.6L171.0 324.3L184.6 314.8L195.0 307.2L207.3 297.0L215.5 290.2L223.2 277.5L229.6 267.8L237.5 256.7L243.9 247.1L247.0 237.4L251.8 227.9L256.6 220.0L260.0 210.4L263.6 199.9L269.8 186.9L271.1 178.0L273.2 160.2L278.2 148.2L283.0 125.8L287.7 108.3L292.5 94.0L297.2 80.0" stroke="#0000ff" stroke-width="2" fill="none" shape-rendering="crispEdges"/><path d="M65.5 65.5H615.5V375.5H65.5ZM128.5 375V370M128.5 65V71M181.5 375V365M181.5 65V76M234.5 375V370M234.5 65V71M287.5 375V365M287.5 65V76M340.5 375V370M340.5 65V71M393.5 375V365M393.5 65V76M446.5 375V370M446.5 65V71M499.5 375V365M499.5 65V76M552.5 375V370M552.5 65V71M605.5 375V365M605.5 65V76M65 75.5H76M615 75.5H605M65 104.5H71M615 104.5H610M65 133.5H71M615 133.5H610M65 162.5H71M615 162.5H610M65 191.5H71M615 191.5H610M65 220.5H76M615 220.5H605M65 249.5H71M615 249.5H610M65 278.5H71M615 278.5H610M65 307.5H71M615 307.5H610M65 336.5H71M615 336.5H610" stroke="#000" stroke-width="1" fill="none" shape-rendering="crispEdges"/></svg></body></html>
